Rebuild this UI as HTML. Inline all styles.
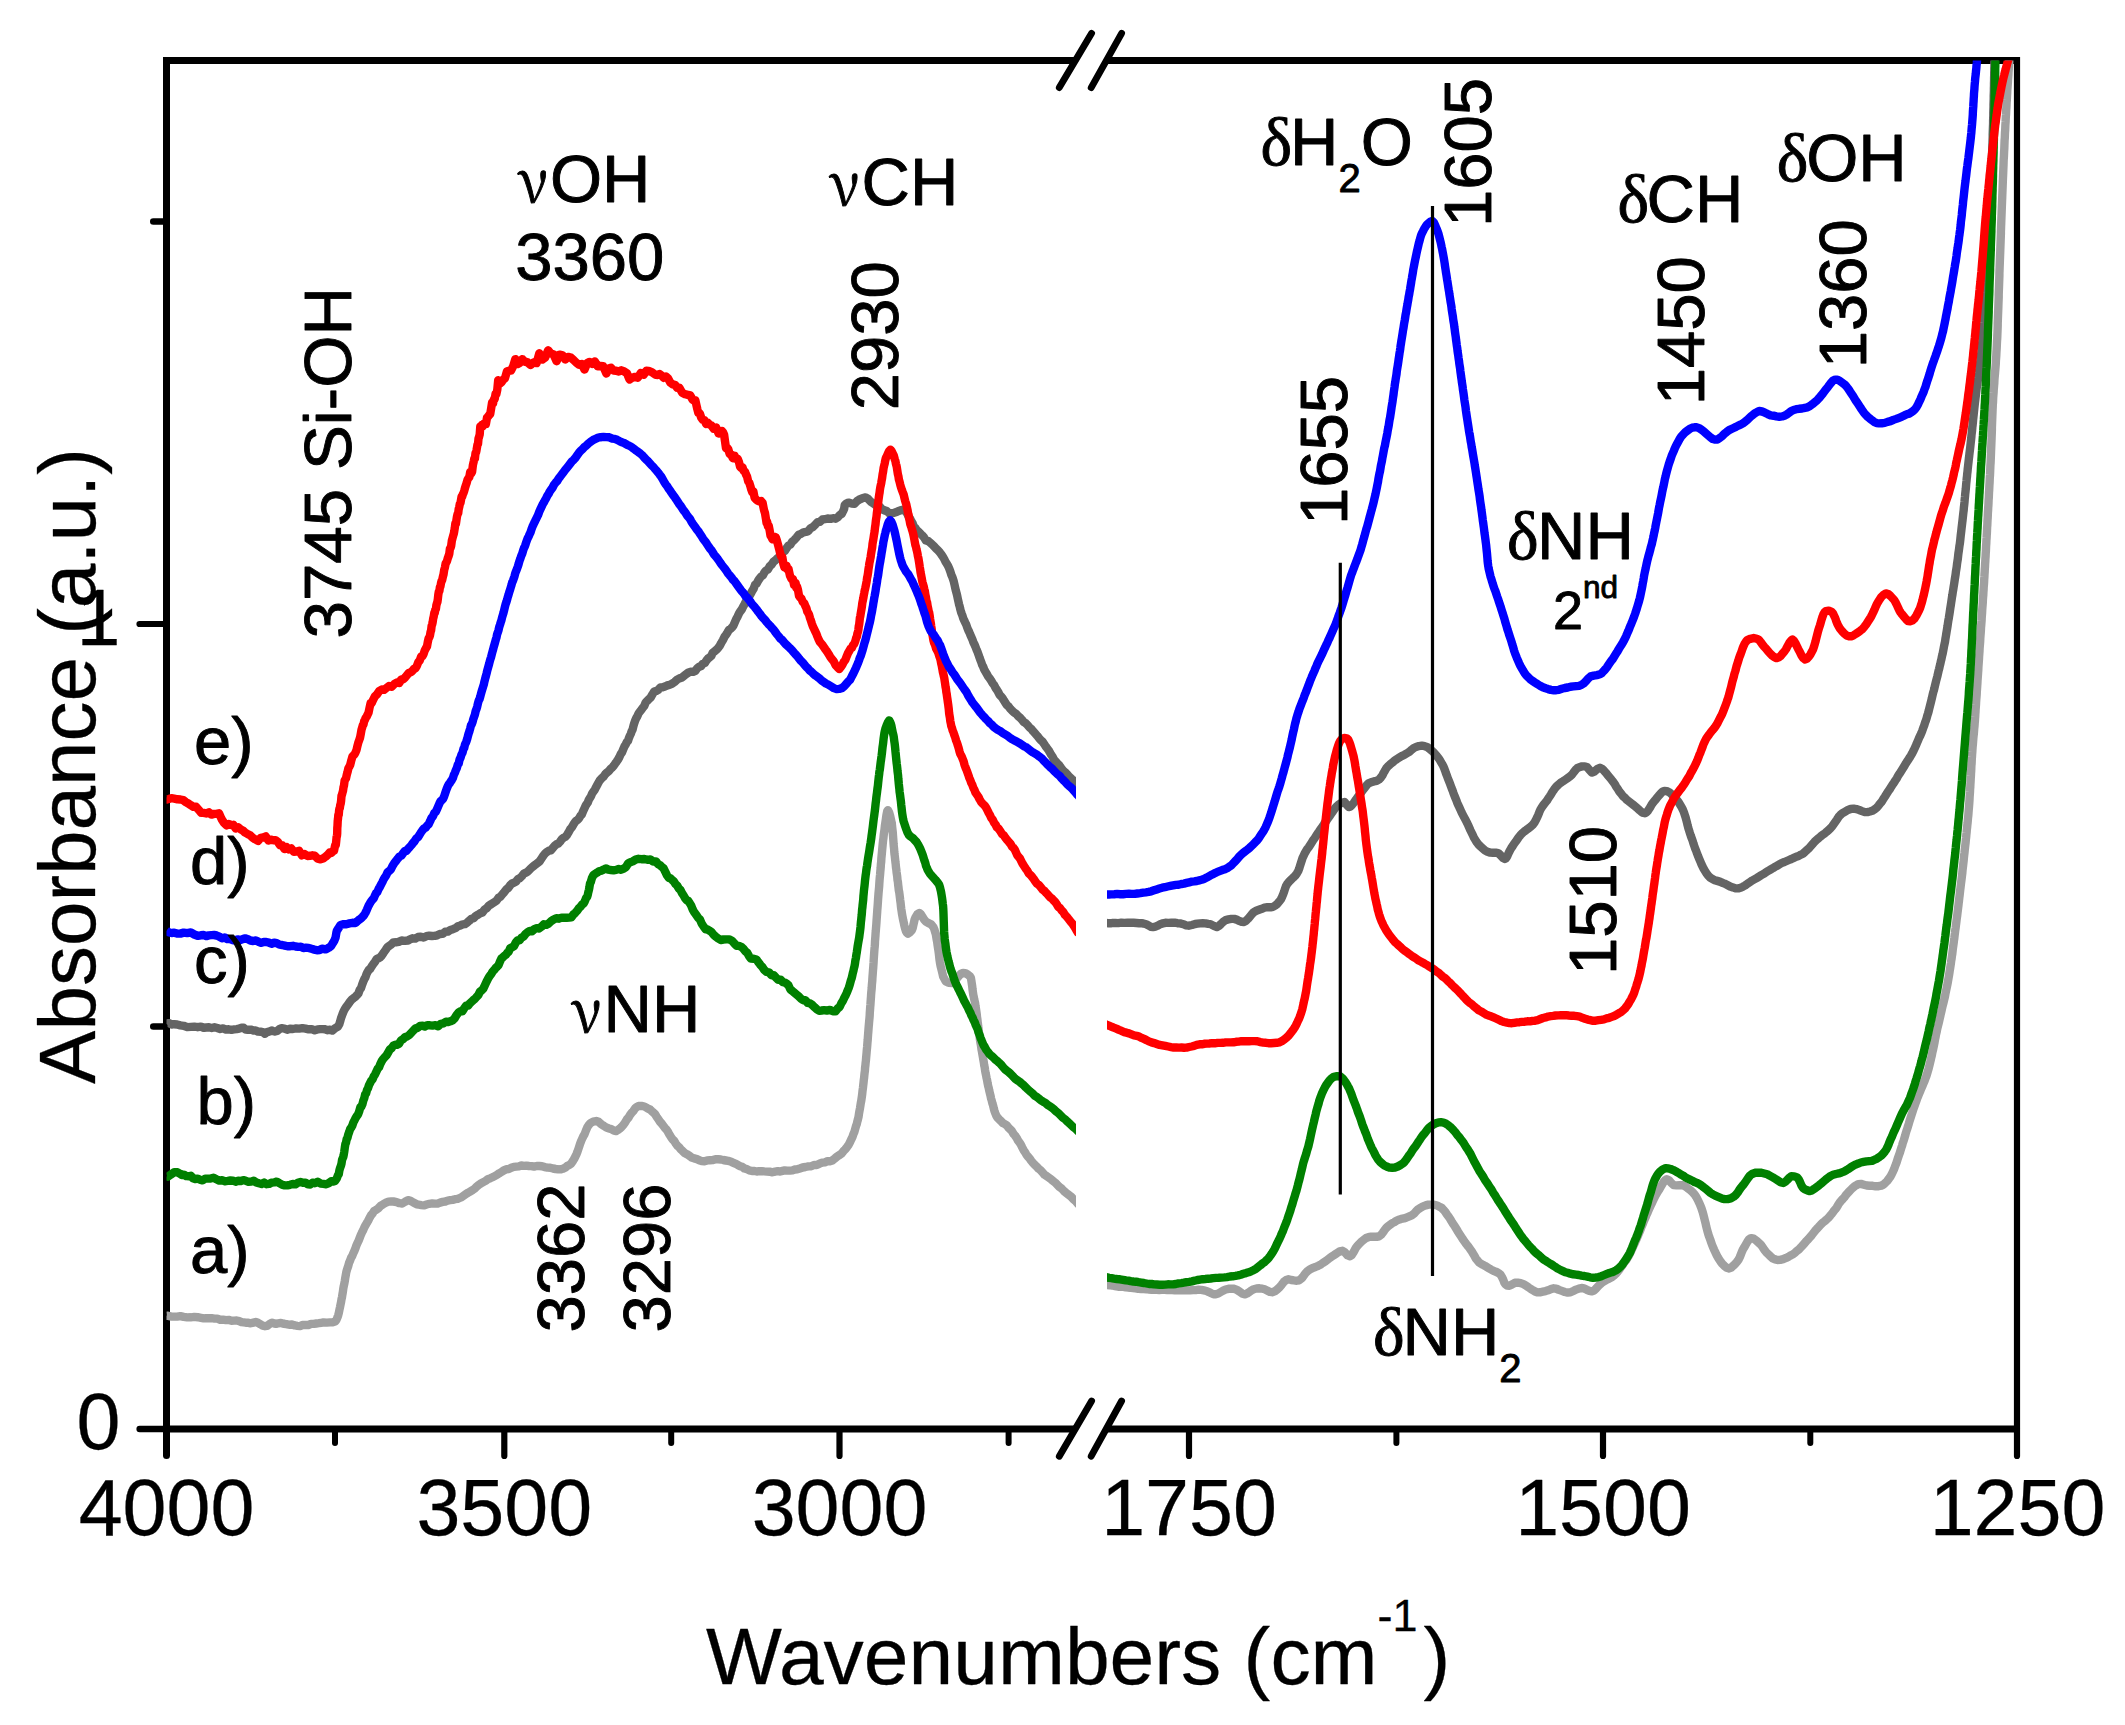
<!DOCTYPE html>
<html lang="en"><head><meta charset="utf-8"><title>FTIR spectra</title><style>html,body{margin:0;padding:0;background:#fff}svg{display:block}</style></head><body>
<svg width="2125" height="1725" viewBox="0 0 2125 1725" role="img" aria-label="FTIR absorbance spectra">
<rect width="2125" height="1725" fill="#fff"/>
<defs><clipPath id="cl"><rect x="166.5" y="60.5" width="909.5" height="1368.5"/></clipPath><clipPath id="cr"><rect x="1107.0" y="60.5" width="910.0" height="1368.5"/></clipPath></defs>
<g stroke="#000" stroke-width="7.0" fill="none" stroke-linecap="butt">
<line x1="163.0" y1="60.5" x2="1075.4" y2="60.5"/>
<line x1="1106.8" y1="60.5" x2="2020.0" y2="60.5"/>
<line x1="166.5" y1="1429.0" x2="1075.4" y2="1429.0"/>
<line x1="139.7" y1="1429.0" x2="166.5" y2="1429.0" stroke-linecap="round" stroke-width="6.6"/>
<line x1="1106.8" y1="1429.0" x2="2017.0" y2="1429.0"/>
<line x1="166.5" y1="60.5" x2="166.5" y2="1429.0"/>
<line x1="166.5" y1="1429.0" x2="166.5" y2="1455.5" stroke-linecap="round"/>
</g>
<line x1="2017.0" y1="57.0" x2="2017.0" y2="1429.0" stroke="#000" stroke-width="6.2"/>
<line x1="2017.0" y1="1429.0" x2="2017.0" y2="1456.0" stroke="#000" stroke-width="6.2" stroke-linecap="round"/>
<g stroke="#000" stroke-linecap="round">
<line x1="139.5" y1="624" x2="166.5" y2="624" stroke-width="6.2"/>
<line x1="153.3" y1="221.5" x2="166.5" y2="221.5" stroke-width="6.6"/>
<line x1="153.3" y1="1026.5" x2="166.5" y2="1026.5" stroke-width="6.6"/>
<line x1="504.3" y1="1429.0" x2="504.3" y2="1456" stroke-width="6.2"/>
<line x1="839.5" y1="1429.0" x2="839.5" y2="1456" stroke-width="6.2"/>
<line x1="1189.0" y1="1429.0" x2="1189.0" y2="1456" stroke-width="6.2"/>
<line x1="1603.0" y1="1429.0" x2="1603.0" y2="1456" stroke-width="6.2"/>
<line x1="335.0" y1="1429.0" x2="335.0" y2="1443" stroke-width="6"/>
<line x1="671.2" y1="1429.0" x2="671.2" y2="1443" stroke-width="6"/>
<line x1="1008.6" y1="1429.0" x2="1008.6" y2="1443" stroke-width="6"/>
<line x1="1396.4" y1="1429.0" x2="1396.4" y2="1443" stroke-width="6"/>
<line x1="1810.3" y1="1429.0" x2="1810.3" y2="1443" stroke-width="6"/>
</g>
<g stroke="#000" stroke-width="6.8" stroke-linecap="round">
<line x1="1059.3" y1="87.6" x2="1091.6" y2="33.3"/>
<line x1="1091.2" y1="87.6" x2="1121.6" y2="33.3"/>
<line x1="1059.3" y1="1456.2" x2="1091.6" y2="1401.0"/>
<line x1="1091.2" y1="1456.2" x2="1121.6" y2="1401.0"/>
</g>
<g fill="none" stroke-width="8.4" stroke-linejoin="round" stroke-linecap="butt" clip-path="url(#cl)">
<path d="M166.5 1315.3L166.9 1315.9L167.9 1315.7L169.5 1316.2L171.6 1316.6L174.2 1316.6L177.1 1316.6L180.3 1316.1L183.7 1316.9L187.2 1317.4L190.8 1317.3L194.3 1316.9L197.7 1317.2L200.9 1317.8L203.8 1318.4L206.3 1318.1L209.0 1318.2L211.7 1318.2L214.5 1318.6L217.3 1318.6L220.2 1319.7L223.0 1319.6L225.9 1320.1L228.7 1319.9L231.5 1320.7L234.1 1320.6L236.7 1320.5L239.2 1321.1L241.5 1322.1L243.7 1322.4L245.7 1322.7L247.5 1322.6L250.7 1323.3L253.4 1322.6L255.7 1322.0L258.0 1322.8L260.5 1324.3L262.7 1325.7L265.0 1326.2L267.1 1325.9L269.3 1324.2L272.0 1322.7L273.8 1323.4L276.0 1323.9L278.3 1323.3L280.9 1322.9L283.6 1323.8L286.4 1324.1L289.2 1324.8L292.0 1324.5L294.8 1325.4L297.5 1325.8L300.0 1326.1L302.7 1325.0L305.5 1324.9L308.3 1325.0L311.0 1323.9L313.7 1323.9L316.3 1323.5L318.8 1323.2L321.2 1322.8L323.4 1322.4L326.8 1322.6L330.0 1322.4L332.8 1322.2L335.1 1321.5L336.5 1319.8L337.5 1317.3L338.2 1315.3L338.8 1313.0L339.5 1309.5L340.1 1306.8L340.6 1304.2L341.1 1301.8L341.5 1299.3L342.0 1297.2L342.4 1294.5L342.9 1291.7L343.3 1288.5L343.8 1285.9L344.3 1283.8L344.8 1281.0L345.3 1277.7L345.8 1275.0L346.3 1272.1L346.9 1270.0L347.5 1268.2L348.2 1266.1L349.1 1262.7L350.0 1260.7L351.1 1257.8L352.2 1256.0L353.3 1253.2L354.4 1250.9L355.5 1248.2L356.5 1245.2L357.6 1242.8L358.6 1240.7L359.7 1237.9L360.7 1235.3L361.9 1232.6L363.0 1230.6L364.3 1227.5L365.6 1225.1L366.8 1223.0L368.1 1220.9L369.5 1218.0L370.9 1215.4L372.4 1213.7L374.1 1211.1L375.9 1209.9L378.1 1208.5L380.6 1205.9L383.3 1204.2L386.0 1202.7L388.6 1201.6L391.1 1201.4L393.4 1201.5L396.6 1202.1L399.5 1203.2L402.2 1203.5L405.1 1201.7L408.0 1200.1L410.6 1200.8L413.4 1202.5L416.8 1204.3L418.9 1204.7L421.3 1205.1L423.8 1205.4L426.6 1204.5L429.3 1203.8L432.2 1203.4L434.9 1203.6L437.6 1203.6L440.1 1202.6L442.7 1201.9L445.3 1201.5L447.7 1200.6L450.2 1200.2L452.6 1199.9L455.1 1199.2L457.6 1198.9L459.7 1198.0L461.8 1197.1L463.9 1195.4L466.0 1194.0L468.2 1192.6L470.3 1191.5L472.5 1190.1L474.7 1188.6L476.8 1186.4L478.9 1184.7L481.0 1183.4L483.3 1182.1L485.6 1180.9L487.9 1179.2L490.2 1178.3L492.4 1177.3L494.7 1176.1L496.9 1174.9L499.2 1173.3L501.4 1172.0L503.9 1170.4L506.4 1169.2L508.8 1169.0L511.3 1167.8L513.8 1166.9L516.3 1166.6L518.9 1166.4L521.3 1165.5L523.8 1165.9L526.3 1165.6L528.9 1166.0L531.5 1166.1L534.1 1166.6L536.7 1166.0L539.3 1166.0L541.9 1166.2L544.6 1167.1L547.4 1167.6L550.2 1167.7L553.0 1168.5L555.7 1169.0L558.2 1169.3L560.6 1169.4L562.7 1168.8L565.2 1167.7L567.3 1165.9L569.3 1165.0L571.1 1163.6L572.9 1161.0L574.1 1159.1L575.3 1156.6L576.4 1154.4L577.4 1151.9L578.4 1149.0L579.3 1146.2L580.3 1143.2L581.2 1140.9L582.1 1138.9L583.1 1136.7L584.6 1134.1L585.9 1130.6L587.3 1127.3L588.8 1125.0L590.4 1123.1L593.2 1121.6L596.2 1121.0L598.6 1121.8L601.2 1124.2L603.9 1125.9L606.4 1127.6L609.1 1128.5L611.7 1129.3L614.0 1130.6L616.1 1131.0L618.1 1129.9L619.7 1128.7L621.4 1127.1L623.2 1125.2L625.0 1122.6L626.9 1119.4L628.5 1117.6L630.0 1115.0L631.7 1112.7L633.3 1111.1L635.0 1108.5L636.8 1106.9L638.6 1106.0L641.4 1105.9L644.4 1106.5L647.3 1108.2L650.2 1109.6L651.9 1111.3L653.6 1112.7L655.2 1114.3L656.7 1116.9L658.3 1119.2L659.9 1121.6L661.5 1123.4L663.1 1125.5L664.8 1127.8L666.3 1129.4L667.9 1131.7L669.4 1134.6L671.0 1137.1L672.6 1139.4L674.2 1140.9L675.8 1143.6L677.4 1145.8L679.0 1147.0L680.7 1149.3L682.3 1150.7L684.6 1153.0L686.9 1154.2L689.2 1155.6L691.6 1157.5L694.1 1158.4L696.9 1159.1L699.2 1160.2L701.7 1161.1L704.4 1161.3L707.2 1160.4L710.0 1160.2L712.9 1160.1L715.6 1159.2L718.3 1159.3L720.9 1159.5L723.2 1160.0L725.9 1160.5L728.3 1160.9L730.6 1161.5L732.9 1162.6L735.2 1163.6L737.6 1164.8L739.9 1166.2L742.2 1166.8L744.5 1168.5L746.9 1169.1L749.3 1170.4L751.9 1171.0L754.6 1171.0L756.8 1171.5L759.2 1171.2L761.7 1171.1L764.3 1171.4L767.0 1171.6L769.7 1171.7L772.4 1172.3L775.1 1171.6L777.7 1171.2L780.2 1171.5L782.5 1170.9L784.7 1170.4L787.5 1170.6L790.1 1170.6L792.5 1170.4L794.9 1169.5L797.3 1169.3L799.8 1168.5L802.6 1167.5L805.4 1167.0L808.3 1166.4L811.2 1166.3L814.0 1165.0L816.7 1165.1L819.5 1163.7L822.2 1162.6L824.9 1162.3L827.5 1161.2L829.9 1161.2L832.4 1160.4L834.8 1158.5L837.1 1156.5L839.3 1155.1L841.3 1153.8L843.3 1151.3L845.2 1149.4L847.0 1147.1L848.7 1144.8L850.0 1142.1L851.2 1139.5L852.4 1137.1L853.4 1134.2L854.4 1131.8L855.3 1128.7L856.0 1126.1L856.7 1124.3L857.3 1121.6L857.9 1119.5L858.5 1117.1L859.0 1113.7L859.5 1110.7L860.0 1108.2L860.4 1105.7L860.8 1103.0L861.2 1101.2L861.5 1099.2L861.9 1096.4L862.2 1094.1L862.5 1091.1L862.9 1088.2L863.2 1085.6L863.5 1083.0L863.8 1080.0L864.1 1077.9L864.3 1075.7L864.6 1072.8L864.9 1070.9L865.1 1067.6L865.4 1065.3L865.6 1063.0L865.9 1060.7L866.1 1058.1L866.4 1054.8L866.6 1052.7L866.8 1050.1L867.1 1047.2L867.3 1044.7L867.5 1042.0L867.7 1040.0L867.9 1036.9L868.1 1034.2L868.3 1031.8L868.5 1029.1L868.7 1026.7L868.9 1024.5L869.1 1022.0L869.3 1019.9L869.5 1017.8L869.7 1015.4L869.8 1012.7L870.0 1010.1L870.2 1007.1L870.4 1005.1L870.6 1001.9L870.8 999.1L871.0 996.6L871.1 994.6L871.3 992.1L871.5 990.2L871.7 988.0L871.9 984.7L872.1 982.6L872.3 980.5L872.4 978.3L872.6 975.6L872.8 973.0L873.0 970.2L873.2 968.0L873.4 965.0L873.6 962.3L873.7 960.1L873.9 957.0L874.1 954.1L874.3 951.2L874.5 948.5L874.7 946.7L874.9 944.3L875.0 941.2L875.2 938.9L875.4 936.3L875.6 933.0L875.8 931.0L876.0 928.3L876.2 925.9L876.4 923.2L876.6 919.9L876.8 917.2L877.0 914.5L877.2 911.8L877.3 909.9L877.5 907.6L877.7 905.0L877.9 901.9L878.1 898.9L878.3 896.4L878.5 893.6L878.7 891.4L878.9 889.3L879.1 887.2L879.3 883.9L879.5 881.0L879.7 878.5L879.9 876.4L880.1 874.4L880.3 871.8L880.5 869.7L880.7 867.4L880.9 864.3L881.2 861.7L881.4 858.1L881.7 855.0L881.9 852.8L882.1 850.7L882.4 847.4L882.6 845.1L882.9 842.1L883.1 840.2L883.4 838.3L883.7 835.2L883.9 833.6L884.2 831.6L884.5 829.6L884.9 825.7L885.4 822.4L885.9 819.0L886.3 816.1L886.8 813.3L887.3 810.9L887.9 810.3L889.0 812.1L890.1 815.7L891.1 820.1L891.4 821.8L891.8 823.1L892.0 825.8L892.3 828.3L892.5 829.9L892.8 832.8L893.0 835.6L893.2 838.2L893.4 840.9L893.6 844.2L893.8 846.3L894.1 848.9L894.3 852.0L894.5 854.1L894.8 856.3L895.1 859.0L895.4 861.9L895.7 864.2L896.0 867.5L896.3 869.4L896.6 872.3L896.9 874.4L897.2 876.5L897.5 880.0L897.9 881.9L898.2 885.2L898.5 887.3L898.8 890.3L899.2 892.0L899.5 894.3L899.9 897.6L900.2 900.1L900.6 902.9L900.9 906.1L901.3 909.1L901.7 911.6L902.0 913.9L902.4 916.0L902.8 918.1L903.3 920.7L903.7 922.3L904.2 924.9L905.1 928.5L905.9 931.1L906.9 932.8L908.0 933.7L909.9 932.3L911.8 930.4L912.7 928.0L913.4 924.8L914.0 922.2L914.6 919.5L915.5 917.3L917.3 914.3L919.3 913.0L920.8 914.1L922.4 916.7L924.1 919.5L925.9 921.7L928.5 923.2L931.2 924.4L933.4 927.1L934.4 929.5L935.2 932.3L935.8 934.0L936.2 936.5L936.7 939.7L937.2 942.1L937.6 945.2L938.0 948.0L938.4 950.1L938.8 953.2L939.1 955.9L939.5 959.6L939.9 962.2L940.4 965.0L940.9 967.3L941.6 970.0L942.4 973.3L943.2 976.7L944.3 978.6L945.6 981.2L948.7 982.9L952.2 983.1L954.0 982.4L955.7 979.6L957.4 977.7L959.1 975.8L960.7 974.0L963.1 973.0L965.4 973.1L967.9 974.6L970.1 976.5L970.9 977.9L971.4 980.9L971.8 983.6L972.2 986.2L972.5 989.1L972.9 992.1L973.3 994.8L973.7 996.7L974.2 999.2L974.6 1000.9L975.1 1003.0L975.5 1006.0L975.9 1008.5L976.3 1011.1L976.7 1013.8L977.0 1017.0L977.4 1019.5L977.7 1022.5L978.0 1024.3L978.2 1026.5L978.5 1028.4L978.8 1031.4L979.2 1034.2L979.5 1036.2L979.9 1039.3L980.3 1041.9L980.7 1044.0L981.1 1046.3L981.5 1049.5L982.0 1051.9L982.4 1054.2L982.9 1057.1L983.3 1059.5L983.8 1062.3L984.2 1065.2L984.7 1067.4L985.1 1070.4L985.6 1073.2L986.1 1075.5L986.6 1078.1L987.1 1080.3L987.6 1083.2L988.2 1086.1L988.7 1087.9L989.3 1090.8L989.9 1093.4L990.5 1095.6L991.1 1098.6L991.8 1100.9L992.5 1103.7L993.1 1105.5L993.8 1108.5L994.5 1111.0L995.3 1113.2L996.2 1115.5L997.4 1117.5L999.0 1119.2L1000.8 1120.9L1002.8 1123.0L1004.9 1124.1L1006.9 1125.5L1008.7 1127.9L1010.4 1129.5L1012.0 1131.2L1013.5 1133.9L1015.0 1135.5L1016.6 1137.8L1018.1 1140.7L1019.5 1142.5L1020.8 1144.5L1022.2 1147.4L1023.5 1149.9L1024.9 1152.1L1026.3 1154.4L1027.8 1156.4L1029.4 1158.2L1031.1 1160.7L1032.9 1162.9L1034.8 1164.9L1036.7 1166.6L1038.7 1168.8L1040.6 1170.3L1042.6 1172.6L1044.6 1174.8L1046.7 1176.1L1048.8 1177.6L1050.9 1179.1L1053.1 1181.0L1055.3 1182.7L1057.6 1185.1L1059.5 1187.1L1061.6 1188.5L1063.9 1191.0L1066.4 1193.2L1068.9 1195.0L1071.3 1196.9L1073.6 1199.5L1075.7 1201.1L1077.4 1203.3L1078.8 1204.5L1079.7 1205.9L1080.0 1205.8" stroke="#a0a0a0"/>
<path d="M166.5 1024.1L166.9 1023.5L167.9 1023.2L169.5 1023.2L171.6 1024.5L174.2 1024.2L177.1 1024.5L180.3 1025.4L183.7 1025.8L187.2 1027.1L190.8 1026.9L194.3 1026.7L197.7 1027.2L200.9 1026.6L203.8 1027.9L206.3 1027.5L209.0 1027.3L211.7 1028.0L214.5 1027.2L217.3 1028.0L220.2 1029.0L223.0 1028.4L225.9 1029.6L228.7 1029.3L231.5 1029.8L234.1 1029.4L236.7 1029.1L239.2 1028.6L241.5 1027.8L243.7 1027.8L245.7 1029.6L247.5 1029.7L250.7 1029.6L253.4 1030.5L255.7 1030.5L258.0 1031.6L260.5 1031.7L262.7 1032.1L265.0 1033.8L267.1 1032.1L269.1 1031.6L272.0 1030.5L273.4 1031.2L275.1 1031.5L277.1 1031.0L279.3 1029.2L281.7 1028.2L284.4 1028.6L287.1 1029.7L290.0 1028.7L293.0 1029.0L296.1 1028.4L299.2 1028.6L302.4 1028.1L305.5 1028.6L308.7 1029.3L311.7 1029.1L314.7 1030.3L317.5 1029.4L320.3 1029.1L322.8 1029.1L325.2 1029.3L327.3 1030.2L329.2 1029.7L330.9 1030.1L332.2 1030.6L335.7 1027.8L338.0 1026.5L339.3 1024.2L340.1 1021.6L341.0 1018.2L342.4 1014.4L343.6 1011.4L344.9 1008.8L346.5 1006.5L348.2 1004.2L349.9 1001.8L351.8 999.6L353.5 998.2L355.3 996.9L356.9 995.2L358.4 993.5L359.7 989.8L361.0 988.2L362.1 984.8L363.3 981.5L364.4 979.0L365.4 977.3L366.5 974.1L367.7 971.7L368.9 969.8L370.1 969.0L371.7 966.4L373.3 964.0L375.0 961.7L376.7 958.9L378.4 958.3L380.1 957.3L381.8 955.5L383.7 952.6L385.5 950.1L387.3 947.4L389.2 945.9L391.2 944.5L393.4 942.4L396.0 942.3L398.7 941.9L401.6 940.5L404.7 940.9L408.0 940.5L410.3 939.2L412.8 938.3L415.3 938.6L418.0 937.0L420.8 936.7L423.6 937.6L426.4 936.2L429.2 935.7L432.0 936.0L434.7 935.9L437.2 935.3L439.9 934.0L442.6 933.8L445.2 931.8L447.8 931.6L450.3 930.0L452.9 929.2L455.4 928.2L457.9 926.2L460.5 925.4L462.7 924.4L464.9 924.1L467.1 922.7L469.3 920.7L471.5 918.8L473.7 918.2L475.8 915.9L478.0 914.7L480.2 913.3L482.4 912.5L484.6 909.5L486.8 908.1L488.8 905.6L490.7 904.5L492.6 903.2L494.6 901.9L496.5 900.7L498.5 897.8L500.4 896.8L502.4 894.2L504.3 892.1L506.3 889.4L508.2 888.0L510.2 885.2L512.1 883.5L514.1 882.7L516.0 881.6L518.0 879.0L519.9 878.1L521.9 876.1L523.9 873.6L525.9 872.7L527.9 871.4L529.9 869.3L531.8 867.5L533.8 865.9L535.8 864.3L537.7 862.9L539.6 861.4L541.5 858.5L543.4 855.6L545.2 853.4L547.1 851.8L549.0 850.7L550.9 850.3L552.8 848.0L554.7 845.8L556.6 844.2L558.4 843.5L560.2 841.5L562.0 838.9L563.7 837.7L565.3 836.8L566.9 835.1L568.5 832.4L570.2 829.3L571.8 827.4L573.4 824.6L574.9 822.2L576.3 820.6L577.7 819.8L579.1 818.2L580.5 815.7L581.8 814.6L583.1 811.2L584.4 808.4L585.6 805.8L586.7 804.0L587.7 802.7L588.8 799.7L589.9 798.0L591.0 796.3L592.2 793.3L593.4 791.6L594.8 789.7L596.3 786.7L598.0 783.5L599.7 780.5L601.5 778.4L603.4 776.8L605.3 774.1L607.1 772.4L608.9 770.9L610.7 768.8L612.3 767.5L613.8 765.6L615.2 763.6L616.6 761.7L618.0 759.6L619.4 757.1L620.7 754.1L622.0 752.4L623.3 749.2L624.5 746.3L625.7 744.4L626.9 742.0L628.0 740.9L629.0 737.8L629.9 735.6L630.8 733.9L631.7 731.2L632.6 729.5L633.5 725.8L634.4 722.8L635.3 720.2L636.3 718.0L637.4 716.2L638.6 713.4L639.9 711.6L641.3 709.9L642.7 707.9L644.2 706.1L645.7 702.4L647.3 700.8L648.9 699.1L650.6 697.6L652.4 694.4L654.2 691.6L656.1 691.0L658.2 689.8L660.3 687.5L662.6 687.3L665.0 686.5L667.4 685.4L669.8 684.7L672.2 683.6L674.7 681.8L677.1 679.6L679.4 678.4L681.6 677.8L683.9 675.9L686.2 674.2L688.5 672.5L690.8 671.8L693.1 671.9L695.3 670.9L697.4 668.1L699.3 666.7L701.2 666.0L702.8 663.8L704.9 662.9L706.6 660.3L708.1 658.5L709.6 657.4L711.3 655.9L712.8 652.6L714.4 651.5L716.1 650.1L717.8 648.3L719.5 646.2L721.2 643.0L722.9 640.1L724.5 636.8L726.0 634.8L727.5 632.4L729.0 629.7L730.5 629.0L732.0 627.4L733.5 625.4L734.9 622.1L736.3 618.8L737.6 616.6L739.1 613.3L740.5 611.1L741.8 609.4L743.1 606.7L744.5 604.2L745.8 601.7L747.1 600.4L748.4 596.8L749.7 595.5L751.0 593.3L752.3 590.8L753.6 588.7L755.0 584.9L756.5 583.7L758.0 580.9L759.5 578.6L761.1 576.6L762.8 575.4L764.5 572.3L766.2 570.4L767.9 569.5L769.6 566.4L771.5 564.7L773.3 561.9L775.3 560.4L777.2 558.5L779.1 556.9L781.0 554.0L782.8 551.8L784.8 551.1L786.7 548.0L788.5 545.5L790.4 544.7L792.2 541.7L794.1 540.1L796.4 537.7L798.8 534.7L801.1 533.8L803.5 532.3L805.8 531.9L808.2 531.2L810.6 528.2L812.9 527.0L815.2 524.8L817.5 522.2L819.8 521.9L822.4 519.5L824.9 519.2L827.6 518.5L830.5 518.9L833.1 518.2L835.5 518.7L837.8 517.2L839.8 514.9L841.6 514.0L843.1 511.1L844.1 509.0L844.7 505.1L845.9 503.8L848.4 502.6L851.6 503.6L854.4 503.8L856.8 501.3L859.1 499.7L862.2 498.3L865.6 497.4L868.1 498.9L870.5 501.5L873.2 503.4L875.3 504.9L877.6 505.5L879.9 506.9L882.2 509.4L884.5 510.4L886.9 511.1L889.2 513.4L891.5 513.1L893.9 512.9L897.1 511.7L900.4 510.3L903.3 509.6L905.4 511.2L907.1 513.4L908.9 517.4L910.1 518.7L911.4 521.3L912.6 523.2L913.8 526.4L915.1 527.7L916.5 529.8L918.2 531.3L920.1 533.4L922.0 535.2L924.0 537.4L925.9 540.5L928.3 541.1L930.7 543.2L933.1 545.3L935.3 547.7L937.3 549.7L939.2 551.7L941.0 554.0L942.8 556.6L944.2 559.0L945.5 561.7L946.8 563.7L948.1 566.1L949.3 568.7L950.4 571.7L951.3 574.7L952.2 576.7L953.0 579.0L953.8 581.6L954.5 584.6L955.2 587.8L956.0 591.2L956.6 593.3L957.2 595.7L957.8 598.7L958.4 601.4L959.0 604.2L959.6 606.2L960.2 608.9L960.9 611.5L961.6 613.5L962.4 615.6L963.3 618.5L964.2 620.4L965.2 622.6L966.2 624.5L967.2 627.5L968.2 630.0L969.2 632.0L970.2 634.5L971.3 637.0L972.3 639.2L973.4 642.3L974.5 644.5L975.6 647.1L976.7 650.1L977.7 652.3L978.6 654.9L979.6 657.8L980.5 660.2L981.3 662.2L982.1 664.8L983.1 666.6L984.2 669.4L985.4 671.6L986.7 673.7L988.1 676.4L989.5 678.1L991.0 680.3L992.5 683.1L994.0 684.9L995.5 687.8L996.9 689.9L998.2 692.0L999.6 694.8L1001.0 696.3L1002.4 697.9L1003.8 700.3L1005.3 702.6L1006.8 705.0L1008.6 706.5L1010.4 708.9L1012.3 710.9L1014.2 712.6L1016.2 713.8L1018.1 716.1L1020.0 717.6L1021.9 719.7L1023.8 722.1L1025.7 723.2L1027.6 725.1L1029.5 727.5L1031.4 729.0L1033.2 731.3L1035.2 733.6L1037.1 735.7L1039.1 738.2L1040.9 740.3L1042.7 741.8L1044.5 744.5L1045.9 746.7L1047.3 748.5L1048.6 750.2L1049.8 752.3L1051.1 754.7L1052.5 756.7L1053.9 759.5L1055.6 761.3L1057.4 763.4L1059.3 765.3L1061.2 768.0L1063.2 770.5L1065.2 772.3L1067.1 774.2L1069.4 776.9L1071.9 779.2L1074.3 781.1L1076.5 783.7L1078.3 785.5L1079.5 786.2L1080.0 786.5" stroke="#646464"/>
<path d="M166.5 1176.2L167.7 1176.7L170.6 1174.8L174.2 1172.3L177.5 1172.3L179.7 1173.6L181.8 1175.0L183.9 1174.6L186.3 1176.1L189.2 1176.3L191.0 1175.8L193.0 1178.3L195.2 1179.1L197.5 1178.7L200.0 1179.7L202.6 1180.4L205.2 1178.6L207.9 1178.6L210.7 1178.5L213.5 1177.7L216.4 1179.2L219.3 1180.6L222.1 1180.3L224.9 1181.2L227.7 1180.9L230.4 1180.5L233.0 1180.7L235.6 1181.7L238.2 1180.8L240.8 1181.0L243.3 1180.1L245.9 1180.8L248.5 1181.8L251.1 1181.6L253.7 1180.7L256.3 1182.5L258.9 1183.3L261.5 1184.0L264.1 1182.6L266.6 1184.2L269.2 1183.8L271.7 1182.7L274.2 1182.4L276.7 1181.6L279.3 1183.2L282.0 1184.7L284.7 1185.4L287.3 1185.4L290.0 1184.8L292.7 1184.0L295.3 1184.4L297.9 1182.7L300.5 1181.9L303.0 1182.7L305.5 1182.6L307.9 1184.4L310.2 1184.5L312.5 1182.7L314.7 1183.2L317.7 1181.7L320.6 1183.6L323.5 1183.9L326.2 1184.3L328.8 1183.1L331.2 1181.2L333.3 1181.5L335.1 1180.9L336.8 1178.4L337.9 1175.3L338.8 1174.0L339.4 1170.4L340.1 1167.9L340.9 1165.8L341.5 1163.6L342.1 1159.7L342.6 1158.6L343.2 1157.2L343.7 1155.0L344.2 1152.1L344.8 1147.7L345.4 1144.0L346.0 1142.7L346.7 1139.0L347.4 1138.1L348.2 1134.7L349.1 1132.3L350.1 1129.2L351.2 1127.6L352.3 1125.7L353.4 1122.4L354.6 1120.1L355.8 1117.7L357.0 1115.8L358.1 1114.4L359.2 1111.3L360.3 1107.3L361.3 1106.6L362.4 1104.3L363.4 1100.3L364.3 1098.2L365.2 1094.2L366.1 1093.5L367.0 1090.0L368.0 1088.2L369.0 1085.1L370.1 1083.0L371.3 1080.6L372.5 1079.5L373.7 1076.4L375.0 1074.6L376.3 1071.8L377.7 1068.7L379.0 1067.4L380.4 1063.8L381.8 1061.0L383.4 1058.7L384.9 1057.0L386.5 1055.4L388.1 1052.6L389.8 1049.5L391.5 1048.3L393.4 1045.6L395.2 1044.8L397.0 1044.8L399.0 1043.7L401.0 1040.4L403.1 1039.2L405.2 1037.0L407.2 1036.4L409.1 1035.1L411.0 1033.1L413.3 1030.7L415.5 1028.3L417.7 1027.8L420.0 1025.9L422.6 1025.7L424.8 1026.5L427.3 1025.1L429.9 1025.3L432.6 1025.6L435.4 1025.2L438.1 1026.2L440.9 1023.8L443.5 1023.3L446.0 1021.6L448.2 1022.0L450.4 1021.3L452.5 1020.4L454.5 1018.5L456.5 1015.1L458.5 1012.6L460.5 1011.3L462.4 1011.2L464.4 1008.0L466.4 1005.4L468.1 1005.6L469.8 1003.4L471.5 1001.9L473.2 1000.2L474.9 998.9L476.6 996.9L478.3 995.1L479.9 991.7L481.6 990.5L483.3 988.6L484.9 985.2L486.5 981.7L488.1 978.6L489.7 975.9L491.2 973.9L492.7 971.5L494.2 969.9L495.7 967.9L497.1 966.7L498.6 965.1L500.0 961.5L501.4 958.4L502.9 957.3L504.3 955.9L505.7 954.9L507.2 952.9L508.7 951.7L510.2 948.2L512.1 947.2L513.9 946.3L515.8 942.5L517.7 940.2L519.6 940.3L521.5 937.7L523.5 936.6L525.6 933.9L527.7 932.1L529.8 930.9L532.1 931.3L534.4 929.1L536.7 928.2L539.1 928.5L541.5 926.7L543.9 924.3L546.3 924.9L548.7 923.5L551.0 921.3L553.6 919.5L556.3 918.2L559.0 918.7L561.6 917.7L564.2 917.7L566.7 917.8L569.2 917.6L571.4 917.3L573.4 914.5L575.3 912.8L577.1 910.8L578.8 908.3L580.5 906.7L582.0 904.6L583.5 903.7L584.8 901.4L586.0 898.2L587.1 897.0L587.8 894.8L588.4 891.8L588.9 890.0L589.4 887.4L590.0 883.5L590.8 882.0L591.9 878.2L593.4 875.1L595.1 873.8L597.0 872.7L599.1 871.3L601.2 870.7L603.5 869.6L605.8 868.4L608.3 869.6L610.9 870.0L613.6 870.3L616.2 869.9L618.7 869.0L621.0 869.8L623.6 868.6L625.9 867.2L628.1 863.5L630.4 862.2L632.7 861.4L635.6 859.6L638.5 858.8L641.5 859.2L644.4 859.0L647.4 859.8L650.3 859.4L653.2 861.5L656.1 861.5L658.0 864.2L659.8 865.0L661.6 866.6L663.5 868.2L665.3 871.8L667.0 875.4L668.8 877.9L670.6 878.4L672.3 880.1L673.9 881.5L675.6 884.2L677.2 885.6L678.8 888.5L680.4 889.9L682.0 893.1L683.6 895.5L685.2 898.3L686.7 900.2L688.2 900.9L689.7 903.1L691.1 905.4L692.6 909.2L694.0 911.9L695.5 913.8L696.9 915.9L698.3 918.0L699.8 919.2L701.7 923.7L703.6 926.5L705.6 929.2L707.5 929.4L709.4 930.7L711.3 931.8L713.6 934.8L715.9 936.7L718.2 938.5L720.7 940.0L723.4 939.5L726.3 939.4L729.2 939.4L732.0 940.7L734.4 943.5L736.7 945.9L739.0 945.9L741.2 946.8L743.3 948.6L745.3 951.2L747.2 952.8L749.0 956.1L750.8 958.6L753.7 958.8L756.5 959.5L758.0 961.8L759.2 963.2L760.5 965.1L762.1 966.7L764.2 969.8L766.5 971.9L769.0 972.3L771.5 975.2L773.7 975.2L776.0 977.7L778.3 979.8L780.6 979.7L782.8 982.1L784.7 982.5L786.6 983.6L788.5 985.4L790.3 989.4L792.2 990.9L794.1 992.5L796.3 994.4L798.6 996.3L800.9 998.6L803.1 1000.2L805.4 1000.3L807.7 1002.9L810.0 1003.3L812.3 1005.0L814.5 1007.2L816.7 1009.2L819.2 1010.8L821.6 1010.5L824.2 1010.1L826.9 1010.6L829.9 1009.9L832.9 1011.3L835.5 1011.3L837.8 1008.4L839.7 1006.9L841.5 1002.9L843.1 1000.4L844.4 997.5L845.6 995.4L846.7 992.9L847.7 990.4L848.7 988.0L849.5 985.4L850.2 983.0L850.9 980.4L851.6 978.4L852.2 975.9L852.8 973.2L853.4 971.0L853.9 968.5L854.5 966.2L855.0 963.5L855.4 960.4L855.9 958.1L856.3 955.1L856.8 952.2L857.2 949.5L857.6 946.7L858.0 944.2L858.4 941.9L858.8 939.6L859.2 937.5L859.6 934.3L860.0 931.4L860.2 929.7L860.5 927.2L860.7 924.7L860.9 922.3L861.2 919.8L861.4 917.7L861.7 915.1L861.9 912.6L862.1 909.6L862.4 907.4L862.6 905.1L862.9 902.6L863.2 899.7L863.4 896.5L863.7 893.3L863.9 891.1L864.2 888.6L864.5 886.1L864.8 883.1L865.0 880.8L865.3 878.3L865.6 875.7L866.0 873.1L866.3 870.4L866.7 867.6L867.1 865.6L867.4 863.0L867.8 860.3L868.2 857.6L868.6 855.3L869.0 852.8L869.4 850.3L869.8 847.6L870.2 845.2L870.6 842.9L870.9 840.9L871.3 838.2L871.6 835.6L872.0 832.8L872.3 830.4L872.6 828.2L872.9 825.9L873.2 823.2L873.5 820.7L873.9 817.7L874.2 815.6L874.5 813.3L874.8 811.1L875.1 808.5L875.4 805.7L875.7 803.0L876.0 800.9L876.3 797.8L876.6 795.4L876.9 793.4L877.2 790.7L877.5 788.4L877.9 785.6L878.2 782.4L878.5 779.6L878.8 776.9L879.1 774.7L879.4 771.8L879.8 769.8L880.1 767.2L880.4 764.8L880.7 762.1L881.0 760.3L881.3 757.8L881.6 755.8L882.0 752.4L882.3 749.5L882.6 746.8L883.0 744.2L883.3 741.5L883.6 738.8L884.0 735.8L884.4 733.1L884.9 730.7L885.4 728.7L886.6 725.4L887.9 722.3L889.2 720.4L890.0 721.8L890.8 723.6L891.5 726.2L892.2 729.7L892.9 733.2L893.3 734.6L893.7 736.5L894.0 738.9L894.3 741.2L894.7 743.9L895.0 746.5L895.3 749.5L895.5 751.9L895.8 754.7L896.1 757.8L896.4 760.7L896.7 763.5L897.0 765.8L897.3 768.4L897.5 770.9L897.8 773.2L898.1 775.6L898.3 778.5L898.6 781.5L898.8 783.9L899.1 786.7L899.4 789.4L899.6 791.9L899.9 793.8L900.2 796.1L900.5 798.5L900.9 801.4L901.2 804.7L901.6 808.0L901.9 811.1L902.3 814.0L902.7 816.6L903.1 818.9L903.6 821.4L904.2 823.0L905.2 826.2L906.2 829.1L907.4 832.2L908.9 835.0L910.6 836.5L912.7 837.9L914.7 840.1L916.5 842.0L917.8 844.1L919.0 846.3L920.0 848.2L921.1 850.9L922.1 853.4L922.9 855.5L923.7 858.2L924.5 860.7L925.3 862.9L926.0 865.9L926.9 867.9L927.8 870.2L929.6 873.2L931.5 875.4L933.4 877.7L935.4 879.8L937.4 882.2L939.1 884.7L939.9 887.1L940.6 889.9L941.2 892.7L941.6 895.1L942.0 897.7L942.4 900.6L942.8 904.0L943.1 906.1L943.3 909.1L943.4 911.4L943.5 913.9L943.6 916.9L943.7 920.2L943.8 922.7L943.9 925.7L944.0 928.8L944.1 931.7L944.3 934.5L944.5 936.7L944.7 938.9L945.0 941.4L945.4 943.8L945.7 946.4L946.1 949.4L946.5 952.0L947.0 954.4L947.4 956.5L947.9 958.5L948.5 961.1L949.2 963.5L949.9 966.6L950.7 969.2L951.5 971.5L952.3 973.4L953.2 976.3L954.1 979.0L955.1 981.7L956.1 984.2L957.2 986.3L958.3 988.5L959.4 990.8L960.5 993.0L961.6 995.2L962.8 997.8L964.1 1000.7L965.4 1003.1L966.7 1005.5L968.0 1007.8L969.2 1010.7L970.3 1012.6L971.4 1015.5L972.5 1017.4L973.6 1020.1L974.7 1022.2L975.7 1025.0L976.7 1027.1L977.7 1029.3L978.6 1032.6L979.6 1035.0L980.5 1037.8L981.4 1039.9L982.4 1042.6L983.7 1045.4L985.0 1047.4L986.4 1050.0L988.0 1052.0L989.6 1054.2L991.4 1055.8L993.4 1057.5L995.4 1059.7L997.4 1061.2L999.2 1062.8L1001.0 1064.5L1002.9 1066.8L1004.8 1069.1L1006.7 1070.6L1008.7 1072.1L1010.6 1073.9L1012.8 1076.2L1014.9 1078.5L1017.1 1080.1L1019.3 1081.5L1021.6 1083.5L1023.8 1085.3L1025.9 1087.5L1028.0 1089.5L1030.2 1091.5L1032.4 1093.2L1034.5 1095.6L1036.7 1096.9L1038.8 1098.5L1041.0 1100.4L1043.2 1101.7L1045.4 1102.9L1047.6 1104.9L1049.8 1106.3L1052.0 1107.8L1054.2 1109.6L1056.4 1111.7L1058.6 1113.3L1060.8 1115.6L1063.0 1117.9L1065.2 1119.4L1067.5 1121.7L1070.2 1124.1L1073.0 1126.9L1075.7 1128.8L1077.9 1131.1L1079.4 1132.5L1080.0 1132.6" stroke="#008000"/>
<path d="M166.5 797.1L167.1 799.4L168.8 799.0L171.3 798.2L174.2 798.7L177.4 799.3L180.5 799.5L183.3 800.1L185.8 802.1L188.3 803.5L190.8 805.2L193.4 806.8L196.0 806.7L198.6 809.7L201.2 812.9L203.8 812.9L206.3 813.5L208.9 812.3L211.4 814.6L213.9 813.9L216.5 813.9L219.0 813.3L221.6 819.1L224.2 823.1L226.5 825.4L228.8 823.9L231.1 825.1L233.4 824.8L235.7 828.4L238.1 827.2L240.4 829.2L242.8 830.4L245.1 832.6L247.5 833.9L250.1 835.2L252.7 837.7L255.3 839.4L258.0 840.9L260.6 837.9L263.2 837.5L265.8 836.4L268.4 840.5L270.9 839.6L273.2 840.2L275.5 840.2L277.8 841.9L280.0 845.2L282.2 845.1L284.4 849.0L286.7 847.2L289.0 849.4L291.3 848.4L293.8 851.8L296.5 851.6L299.2 850.8L301.9 855.3L304.6 854.0L307.3 856.0L309.9 855.8L312.4 855.3L314.7 855.7L317.6 858.7L320.5 859.3L323.1 858.5L325.6 856.7L327.8 854.8L329.7 852.6L331.3 853.0L332.7 851.4L334.0 850.8L335.1 845.5L335.8 845.0L336.2 841.4L336.6 837.2L336.9 836.1L337.0 835.5L337.2 833.3L337.3 827.8L337.5 825.6L337.7 821.1L338.0 818.8L338.3 815.0L338.7 815.1L339.1 810.3L339.4 808.8L339.8 808.1L340.2 805.3L340.7 803.6L341.1 800.9L341.5 795.9L341.9 794.9L342.4 793.0L343.0 790.9L343.5 787.3L344.0 785.6L344.6 780.7L345.2 779.7L346.0 778.4L346.8 774.7L347.5 772.2L348.4 768.3L349.3 766.7L350.3 764.6L351.4 760.1L352.4 756.6L353.5 755.4L354.6 754.3L355.6 752.2L356.6 749.7L357.5 745.7L358.4 742.3L359.3 739.8L360.1 737.5L360.8 733.8L361.5 729.8L362.2 727.6L362.8 725.2L363.5 724.4L364.2 721.0L364.9 719.9L365.7 717.9L366.7 716.5L367.6 714.7L368.5 712.8L369.5 708.0L370.6 703.1L371.7 703.1L373.0 700.1L374.9 696.3L377.0 694.4L379.2 691.1L381.8 689.5L384.0 689.8L386.4 688.0L389.0 686.0L391.6 686.8L394.3 684.1L396.9 682.4L399.3 683.0L401.3 679.4L403.3 679.2L405.2 677.4L407.0 675.2L408.8 673.0L410.5 672.4L412.2 671.1L413.9 669.0L415.4 668.4L416.9 665.9L418.3 662.1L419.7 660.6L421.1 656.6L422.4 656.2L423.6 654.0L424.8 650.3L426.0 648.2L427.0 646.4L427.8 642.0L428.6 638.4L429.3 637.4L430.0 635.4L430.6 631.8L431.1 630.4L431.6 626.1L432.2 624.2L432.7 622.0L433.2 618.5L433.7 616.6L434.3 612.8L434.8 612.8L435.4 609.1L435.9 609.0L436.4 605.1L436.9 603.3L437.4 602.0L437.8 599.4L438.3 594.8L438.8 591.8L439.4 591.0L439.9 587.1L440.4 586.6L441.0 583.1L441.6 581.0L442.2 580.0L442.9 576.6L443.5 574.5L444.2 569.9L444.9 567.6L445.7 563.2L446.4 562.4L447.1 560.8L447.8 558.1L448.6 556.1L449.3 553.7L449.9 548.8L450.6 547.7L451.2 545.7L451.8 540.9L452.5 538.2L453.1 536.0L453.7 534.1L454.2 531.6L454.8 527.9L455.3 523.8L455.9 523.8L456.4 520.4L457.0 516.4L457.6 514.0L458.2 513.2L458.7 509.1L459.3 506.8L459.9 503.4L460.4 503.3L461.0 499.9L461.6 496.6L462.2 496.6L462.9 494.1L463.5 493.1L464.2 490.9L464.9 488.3L465.7 485.7L466.6 483.2L467.5 479.8L468.4 478.2L469.3 477.2L470.2 472.0L471.2 473.5L472.1 471.8L472.9 465.1L473.7 461.6L474.3 458.5L474.9 458.7L475.5 453.1L476.0 452.7L476.5 450.3L477.0 447.4L477.5 444.5L478.0 444.1L478.5 438.6L479.1 436.8L479.7 434.5L480.3 426.4L481.0 427.3L481.9 424.9L482.8 426.2L483.8 423.7L484.9 424.0L485.9 424.1L487.0 417.7L488.1 416.5L489.1 415.1L490.2 414.1L491.2 408.1L492.1 402.4L493.0 403.5L493.9 399.4L494.7 399.2L495.6 393.6L496.4 394.0L497.3 389.7L498.2 380.2L499.2 383.6L500.3 383.2L501.4 382.3L503.1 379.8L505.0 378.2L507.0 371.2L509.0 370.7L511.0 370.6L513.1 366.4L515.3 359.1L517.6 364.1L519.9 362.8L522.3 359.1L524.8 361.6L527.6 362.4L530.6 364.9L533.6 362.5L536.6 363.1L539.3 353.3L542.3 359.6L545.1 357.6L548.1 350.3L550.7 353.4L553.6 354.5L556.6 361.2L559.6 354.7L562.7 355.4L565.3 359.5L568.1 356.9L570.9 357.6L573.7 360.1L576.5 362.9L579.1 364.7L581.7 363.9L584.5 369.5L587.2 363.1L589.7 361.9L592.3 363.9L594.8 361.4L597.7 366.3L600.4 366.0L603.3 366.3L606.4 373.5L608.7 368.5L611.0 367.7L613.5 370.5L616.1 370.7L618.8 371.6L621.4 370.3L624.2 371.4L626.9 373.2L629.5 379.5L632.2 377.7L635.0 376.9L637.9 377.7L640.8 372.9L643.6 374.8L646.3 370.8L648.8 370.9L651.1 371.8L653.1 373.1L655.7 374.9L657.7 375.0L659.6 374.0L661.9 375.8L663.8 377.8L665.9 376.5L668.1 378.4L670.4 382.7L672.7 384.4L675.0 384.8L677.3 387.9L679.4 387.8L682.2 392.8L685.0 394.2L687.8 394.8L690.3 395.4L692.5 399.5L694.0 400.6L695.3 400.2L696.3 404.6L697.3 409.0L698.4 413.1L699.8 413.3L701.2 417.6L702.8 419.9L704.5 420.1L706.2 424.0L707.9 422.9L709.6 424.7L711.3 425.4L713.7 428.7L716.2 427.5L718.6 433.5L720.7 432.3L722.0 431.0L723.1 432.4L724.1 434.7L725.0 441.1L726.0 448.1L727.0 447.7L728.2 449.0L729.7 454.1L731.2 454.5L732.8 458.2L734.5 455.6L736.1 458.9L737.6 458.7L738.9 461.8L740.1 466.9L741.3 468.1L742.5 467.4L743.7 470.9L744.9 471.6L746.0 474.5L747.1 476.7L748.2 481.4L749.3 482.7L750.3 485.9L751.3 489.6L752.3 492.3L753.4 491.5L754.6 497.8L756.1 499.4L757.7 500.7L759.4 501.5L761.1 501.0L762.6 502.9L764.0 510.0L765.0 513.1L765.9 518.6L766.6 523.2L767.2 521.9L767.9 526.4L768.7 525.6L769.6 530.1L770.5 535.7L771.5 537.0L772.5 539.3L773.6 536.8L774.7 536.9L775.8 537.2L776.9 540.6L778.0 544.7L779.1 548.8L780.2 553.6L781.2 556.6L782.3 557.0L783.4 564.0L784.4 567.3L785.5 566.1L786.5 565.8L787.5 569.5L788.5 569.0L790.0 575.8L791.5 579.0L792.9 579.1L794.1 585.1L795.0 583.6L795.6 582.9L796.3 587.8L797.0 586.5L797.9 589.4L799.0 595.8L800.2 597.5L801.5 598.8L802.9 602.1L804.2 603.2L805.4 606.1L806.4 608.1L807.3 611.6L808.2 613.0L809.1 614.7L810.0 618.1L810.9 620.5L811.9 623.8L812.9 626.4L814.0 628.8L815.1 631.1L816.2 633.3L817.4 636.5L818.6 639.4L819.9 642.0L821.1 643.3L822.4 644.9L823.9 647.2L825.5 649.5L827.1 651.6L828.7 654.2L830.3 657.0L831.8 659.0L833.7 661.2L835.6 665.2L837.5 667.3L839.3 669.1L840.8 667.1L842.3 664.9L843.8 661.9L845.3 660.0L846.8 656.1L848.0 653.2L849.2 651.1L850.5 648.8L851.8 647.9L853.0 645.3L854.2 643.9L855.2 641.5L856.2 637.9L856.9 636.5L857.4 633.5L858.0 631.9L858.4 629.8L858.8 626.0L859.2 624.4L859.6 620.7L859.9 617.8L860.3 616.2L860.7 613.7L861.0 611.9L861.5 609.0L861.9 606.5L862.3 603.0L862.8 600.6L863.3 598.2L863.7 595.8L864.2 593.3L864.7 590.4L865.2 588.4L865.7 586.1L866.2 583.6L866.7 580.9L867.1 577.8L867.6 575.6L868.1 572.4L868.5 569.1L869.0 566.1L869.4 563.1L869.8 561.4L870.2 559.2L870.6 557.4L871.0 554.3L871.4 551.8L871.8 549.6L872.2 547.4L872.5 544.0L872.9 541.6L873.3 539.6L873.6 537.7L874.0 534.9L874.4 532.8L874.7 530.6L875.1 526.9L875.5 524.5L875.8 521.3L876.2 518.4L876.5 516.8L876.8 513.6L877.2 510.6L877.5 507.8L877.8 505.4L878.2 502.6L878.5 499.9L878.9 496.9L879.2 494.7L879.6 492.5L879.9 489.8L880.3 487.3L880.7 485.5L881.2 483.4L881.6 480.7L882.1 478.1L882.6 474.3L883.1 471.7L883.6 468.0L884.1 465.9L884.7 463.4L885.2 460.8L885.8 458.2L886.4 457.1L887.7 454.1L889.1 451.2L890.5 449.7L891.6 451.1L892.7 453.3L893.8 455.6L894.8 459.4L895.4 461.0L896.0 464.1L896.5 465.8L896.9 467.8L897.4 471.1L897.9 474.3L898.4 476.2L898.9 479.6L899.5 481.5L900.3 484.8L901.1 487.6L901.9 490.0L902.7 492.1L903.6 494.3L904.4 497.8L905.2 501.0L905.8 502.8L906.4 504.8L906.9 507.3L907.5 509.7L908.0 513.0L908.6 514.8L909.1 518.1L909.7 521.0L910.2 523.8L910.8 525.6L911.4 527.3L911.9 529.4L912.5 531.1L913.1 533.3L913.7 536.1L914.3 539.2L914.8 542.0L915.4 545.2L916.0 547.0L916.5 549.4L917.0 551.3L917.5 553.6L917.9 556.1L918.4 558.2L918.8 560.7L919.3 563.7L919.7 566.6L920.2 569.6L920.6 572.7L921.1 575.0L921.6 577.5L922.1 580.5L922.6 582.7L923.1 584.3L923.7 586.4L924.2 588.9L924.8 591.0L925.4 594.8L926.0 597.5L926.5 600.9L927.1 602.5L927.6 605.8L928.2 608.7L928.7 611.3L929.2 612.7L929.6 615.1L930.1 618.9L930.5 621.4L930.9 623.8L931.2 626.1L931.6 628.5L931.9 631.4L932.3 633.9L932.8 636.5L933.4 640.1L934.2 643.1L935.1 645.1L936.1 648.5L937.2 650.6L938.2 652.6L939.1 655.5L940.0 658.0L940.6 660.3L941.2 663.5L941.8 665.9L942.4 669.3L942.9 672.2L943.4 674.2L943.8 676.0L944.3 678.1L944.7 681.0L945.2 684.2L945.6 687.2L946.0 689.0L946.3 691.9L946.7 693.9L947.1 697.0L947.5 699.7L947.8 701.8L948.2 704.5L948.5 707.0L948.8 709.3L949.1 713.0L949.5 715.5L949.9 717.7L950.3 721.1L950.8 723.5L951.3 726.1L952.0 728.0L952.7 730.6L953.5 732.4L954.3 735.0L955.2 737.4L956.1 740.5L957.0 742.8L957.9 745.6L958.7 748.3L959.5 751.4L960.3 754.0L961.1 755.4L962.0 757.2L962.9 759.5L963.7 761.6L964.6 765.1L965.5 767.5L966.4 769.6L967.3 772.0L968.3 774.8L969.3 777.9L970.3 780.2L971.3 783.0L972.3 784.8L973.4 788.0L974.4 789.8L975.5 792.6L976.7 794.3L978.2 796.5L979.7 799.5L981.4 802.4L983.0 804.0L984.6 805.5L986.1 807.6L987.5 810.4L988.7 812.9L990.0 815.1L991.2 817.9L992.6 819.5L994.0 822.6L995.5 824.5L997.0 827.5L998.6 828.7L1000.3 831.1L1002.1 834.1L1003.9 835.4L1005.7 838.2L1007.4 840.3L1009.1 842.2L1010.6 844.0L1012.1 846.8L1013.5 847.9L1014.7 849.5L1016.0 852.4L1017.2 855.2L1018.6 856.8L1020.0 858.5L1021.3 861.3L1022.7 863.9L1024.2 866.2L1025.7 868.6L1027.2 870.5L1028.7 873.4L1030.3 874.8L1031.9 876.6L1033.5 878.7L1035.1 881.1L1036.9 883.7L1038.8 884.8L1040.7 887.2L1042.6 889.6L1044.5 891.0L1046.4 893.2L1048.3 895.2L1050.1 897.3L1051.8 898.3L1053.5 900.4L1055.1 901.9L1056.7 904.2L1058.3 907.0L1060.0 908.1L1061.6 910.4L1063.3 912.0L1064.9 914.8L1066.7 916.6L1068.6 919.0L1070.7 921.8L1072.7 924.1L1074.6 927.0L1076.3 930.1L1077.8 932.5L1079.0 933.1L1079.7 933.7L1080.0 933.5" stroke="#ff0000"/>
<path d="M166.5 930.6L166.9 930.9L167.9 931.9L169.5 932.5L171.6 933.0L174.2 932.7L177.1 933.6L180.3 933.6L183.7 932.6L187.2 933.1L190.8 932.5L194.3 934.5L197.7 935.9L200.9 935.3L203.8 935.0L206.3 936.1L208.8 935.4L211.4 935.1L214.0 935.0L216.7 935.5L219.3 936.6L222.0 938.3L224.7 937.5L227.3 939.0L230.0 939.1L232.6 940.1L235.2 940.6L237.7 939.4L240.3 940.0L242.7 939.1L245.2 938.4L247.5 939.0L250.4 940.5L253.2 941.0L255.9 940.4L258.6 941.8L261.2 942.9L263.8 942.0L266.3 942.0L268.9 942.6L271.5 943.8L274.1 942.7L276.7 943.2L279.4 944.7L282.1 945.0L284.8 945.6L287.5 946.3L290.3 946.2L293.0 945.8L295.7 946.5L298.3 946.9L300.9 946.8L303.4 948.1L305.9 947.7L308.7 947.9L311.5 948.8L314.3 949.6L317.0 950.3L319.6 950.0L322.0 948.7L324.3 949.2L326.3 949.2L328.9 947.7L331.1 945.9L332.9 943.1L334.5 940.3L335.6 937.4L336.3 933.1L336.9 930.6L338.0 929.0L340.5 925.0L343.8 924.1L346.4 924.2L349.4 923.4L352.5 922.8L355.5 923.0L357.2 921.4L358.9 919.9L360.6 918.8L362.2 917.2L363.8 915.5L365.4 912.9L366.9 909.7L368.5 905.9L370.1 903.0L371.4 900.9L372.6 899.5L373.8 898.3L375.0 895.3L376.2 892.9L377.4 891.9L378.6 889.0L379.8 887.0L381.0 884.6L382.3 882.3L383.5 879.6L384.9 877.3L386.2 875.4L387.6 872.2L389.2 870.9L390.8 869.6L392.5 865.9L394.2 863.2L396.0 861.0L397.8 858.6L399.5 856.5L401.3 855.7L403.1 853.2L404.8 850.9L406.4 851.0L408.0 848.9L409.7 847.1L411.4 845.1L413.1 842.9L414.7 841.1L416.3 838.6L417.9 837.3L419.5 834.9L421.0 832.4L422.6 830.1L424.1 828.4L425.6 827.7L427.1 825.6L428.6 824.3L430.1 821.2L431.5 818.0L433.0 816.2L434.4 812.8L435.8 811.8L437.2 808.7L438.4 805.9L439.5 803.3L440.7 801.0L441.9 800.2L443.0 799.0L444.2 796.3L445.3 792.9L446.5 789.4L447.6 786.6L448.6 784.5L449.7 783.2L450.8 781.4L451.8 780.1L452.9 778.1L453.9 774.8L454.9 772.7L455.9 770.0L456.8 768.1L457.8 764.6L458.7 763.5L459.6 759.5L460.6 757.5L461.5 754.5L462.5 752.7L463.5 748.8L464.2 748.0L465.0 744.4L465.7 743.1L466.4 741.4L467.2 738.9L468.0 735.7L468.7 733.3L469.5 731.0L470.3 728.1L471.0 725.2L471.8 724.2L472.6 721.9L473.4 718.8L474.1 716.8L474.9 714.6L475.7 711.0L476.5 708.9L477.2 706.7L478.0 703.1L478.8 700.4L479.5 699.2L480.3 696.5L481.0 693.7L481.7 691.3L482.4 689.0L483.1 686.8L483.8 684.6L484.4 681.7L485.1 678.9L485.8 676.5L486.5 673.8L487.1 671.2L487.8 668.7L488.5 666.1L489.1 664.0L489.8 661.3L490.4 659.1L491.1 657.1L491.8 654.2L492.4 652.0L493.1 649.5L493.8 646.7L494.4 644.7L495.1 642.3L495.8 639.6L496.5 637.4L497.1 634.4L497.8 632.4L498.5 630.2L499.2 627.1L499.9 625.0L500.6 622.7L501.4 620.4L502.1 617.4L502.8 615.1L503.5 612.7L504.2 609.9L504.9 607.0L505.6 604.2L506.4 602.0L507.1 599.7L507.8 597.0L508.5 594.9L509.3 592.1L510.0 589.9L510.7 587.6L511.5 585.0L512.2 582.4L513.0 580.7L513.7 578.6L514.5 576.3L515.2 573.4L516.0 571.3L516.9 569.1L517.8 566.6L518.6 564.1L519.5 560.9L520.4 558.5L521.3 555.7L522.2 553.7L523.1 550.7L524.0 548.0L525.0 546.1L525.9 543.2L526.8 540.7L527.7 538.3L528.7 536.4L529.6 534.2L530.6 532.1L531.5 529.3L532.5 526.6L533.5 524.4L534.6 522.2L535.7 519.8L536.8 517.6L538.0 515.2L539.1 512.2L540.2 509.6L541.4 507.1L542.5 504.7L543.7 502.7L544.9 500.4L546.1 498.4L547.3 495.7L548.5 494.1L549.7 491.6L551.0 489.8L552.5 487.7L554.0 484.8L555.6 482.7L557.2 481.0L558.8 478.3L560.4 476.3L562.0 474.2L563.6 472.2L565.2 469.9L566.9 467.8L568.5 465.8L570.2 463.6L571.9 461.4L573.7 459.8L575.4 457.9L577.1 455.4L578.9 452.8L580.7 450.7L582.4 449.3L584.2 447.2L586.0 445.9L588.4 443.5L590.8 441.7L593.3 439.9L595.8 438.7L598.2 437.6L600.6 437.2L603.5 436.9L606.4 437.1L609.3 437.3L612.3 438.6L614.6 438.9L617.1 439.8L619.6 441.2L622.2 442.4L624.7 443.3L627.3 444.9L629.8 446.0L631.9 447.3L633.9 448.8L636.0 450.5L638.0 451.8L640.1 453.4L642.1 455.1L644.2 457.5L646.2 459.6L648.2 461.4L650.2 463.7L651.8 465.5L653.4 467.0L655.0 469.0L656.5 470.6L658.1 472.6L659.6 474.6L661.2 476.6L662.7 479.3L664.2 482.0L665.8 484.5L667.3 486.4L668.9 489.1L670.4 491.1L672.0 493.5L673.6 495.7L675.0 497.6L676.5 499.8L678.0 502.2L679.4 504.3L680.9 506.2L682.4 508.6L683.9 510.8L685.4 512.6L686.9 515.2L688.4 517.0L689.9 518.7L691.3 521.4L692.8 523.8L694.2 525.7L695.7 527.8L697.1 529.9L698.4 531.3L699.8 533.6L701.4 535.9L702.9 538.4L704.4 540.4L705.8 542.2L707.3 544.6L708.7 546.6L710.2 548.9L711.6 550.4L713.0 552.7L714.4 555.0L715.9 556.6L717.3 558.3L718.8 560.5L720.3 562.8L721.9 565.0L723.5 567.0L725.0 568.9L726.6 571.2L728.2 573.6L729.7 575.4L731.3 577.2L732.9 579.6L734.5 581.1L736.0 583.2L737.6 585.5L739.2 587.7L740.7 589.8L742.3 591.8L743.9 593.6L745.4 596.0L747.0 597.4L748.6 599.4L750.2 601.4L751.7 603.7L753.3 605.5L754.9 607.3L756.5 609.3L758.2 611.7L759.9 613.8L761.6 616.2L763.3 618.1L765.0 619.9L766.7 622.1L768.4 624.1L770.1 625.7L771.8 627.8L773.6 629.6L775.3 632.0L777.0 634.4L778.7 636.4L780.4 638.6L782.1 639.9L783.8 642.0L785.5 644.0L787.2 645.5L789.0 647.3L790.7 648.9L792.4 650.7L794.1 652.7L795.8 654.6L797.5 656.5L799.2 658.8L801.0 660.9L802.7 662.5L804.4 664.6L806.1 666.8L807.8 668.2L809.5 670.3L811.2 671.6L812.9 673.3L815.1 675.3L817.3 676.8L819.4 678.4L821.6 680.5L823.8 682.0L825.9 683.5L828.0 684.5L830.9 686.3L833.8 688.1L836.6 689.1L839.3 688.8L841.8 688.2L844.2 686.2L846.5 683.6L848.7 681.1L850.1 679.7L851.3 677.4L852.5 675.0L853.7 672.7L854.8 670.4L855.9 668.0L857.0 665.4L858.1 662.8L859.0 660.3L859.8 657.9L860.7 656.0L861.5 653.4L862.3 651.0L863.1 648.2L863.9 645.1L864.6 642.6L865.4 640.1L866.1 637.4L866.8 634.5L867.5 631.7L868.1 629.2L868.6 627.3L869.1 625.0L869.7 622.9L870.2 620.6L870.7 618.2L871.1 615.7L871.6 613.3L872.1 610.9L872.5 608.3L873.0 605.8L873.4 602.9L873.8 600.7L874.2 598.3L874.7 595.8L875.1 593.5L875.6 590.7L876.0 587.8L876.5 585.0L876.9 582.6L877.3 579.5L877.8 577.0L878.2 574.7L878.6 571.7L879.0 568.7L879.4 566.1L879.8 563.6L880.3 561.2L880.7 558.5L881.2 555.7L881.6 552.9L882.1 550.3L882.5 547.4L883.0 544.7L883.4 541.9L883.9 539.6L884.4 537.2L884.9 534.6L885.4 532.9L885.9 530.5L886.4 529.1L887.6 524.8L888.8 521.6L890.1 520.3L891.4 521.8L892.7 524.9L893.9 528.9L894.6 531.4L895.2 534.0L895.8 536.8L896.4 539.5L897.0 542.5L897.6 545.7L898.2 548.6L898.8 551.7L899.4 554.5L900.1 557.5L900.7 559.8L901.5 562.1L902.4 564.9L903.5 567.2L904.8 569.4L906.2 571.8L907.6 573.4L908.9 575.4L910.2 577.9L911.5 580.1L912.7 582.3L914.0 585.3L915.3 588.0L916.5 590.7L917.5 593.3L918.5 595.6L919.5 598.2L920.4 600.8L921.3 603.7L922.3 606.3L923.1 609.0L924.0 611.6L924.8 614.1L925.6 616.2L926.3 619.0L927.0 621.8L927.7 623.7L928.6 626.3L929.6 628.6L930.8 631.0L932.1 632.6L933.5 634.3L934.9 636.6L936.4 638.9L937.8 640.7L939.1 643.5L940.2 645.4L941.2 648.3L942.2 651.0L943.1 653.7L944.1 656.4L945.1 658.7L946.1 661.3L947.2 663.3L948.5 666.1L949.8 668.1L951.2 670.0L952.7 672.6L954.2 674.4L955.8 676.8L957.3 679.4L958.9 681.4L960.5 683.5L962.0 685.8L963.5 688.0L965.0 690.2L966.5 692.1L967.9 695.0L969.4 697.5L970.8 699.7L972.2 702.1L973.7 704.0L975.2 706.0L976.7 707.8L978.5 710.3L980.3 712.8L982.1 714.8L984.0 716.8L985.9 719.0L987.9 720.8L989.9 723.2L991.9 724.8L994.0 727.1L996.1 728.7L998.3 730.1L1000.5 731.3L1002.7 733.1L1004.9 734.2L1007.4 735.8L1009.9 737.8L1012.4 739.4L1015.0 740.8L1017.5 742.1L1020.0 743.5L1022.2 745.0L1024.4 746.5L1026.5 747.4L1028.7 749.2L1030.9 751.0L1033.0 752.4L1035.1 753.6L1037.3 754.9L1039.5 756.7L1041.7 758.3L1043.8 760.7L1045.9 762.8L1048.0 765.0L1050.1 767.1L1052.0 768.6L1053.9 770.7L1055.8 772.6L1057.6 774.4L1059.5 775.7L1061.4 778.1L1063.3 780.1L1065.3 782.0L1067.5 784.6L1070.0 786.7L1072.4 788.9L1074.8 791.7L1076.8 794.2L1078.5 795.9L1079.6 797.1L1080.0 797.7" stroke="#0000ff"/>
</g>
<g fill="none" stroke-width="8.4" stroke-linejoin="round" stroke-linecap="butt" clip-path="url(#cr)">
<path d="M1103.0 1284.4L1104.4 1284.8L1107.1 1285.1L1109.3 1285.2L1112.0 1285.5L1115.0 1286.1L1118.2 1286.7L1121.6 1286.8L1123.7 1286.9L1125.9 1287.4L1128.2 1287.5L1130.6 1287.9L1133.1 1288.0L1135.7 1288.4L1138.3 1288.9L1141.0 1289.0L1143.7 1289.1L1146.3 1289.2L1149.0 1289.5L1151.6 1289.7L1154.1 1289.8L1156.6 1289.9L1159.2 1290.0L1161.8 1289.9L1164.4 1289.9L1167.1 1290.0L1169.7 1289.9L1172.3 1290.1L1174.8 1290.3L1177.3 1290.4L1179.8 1290.2L1182.2 1290.1L1184.4 1290.4L1186.6 1290.2L1189.8 1290.4L1192.9 1290.0L1195.8 1290.1L1198.6 1289.7L1201.3 1289.9L1203.9 1290.4L1206.5 1291.0L1208.9 1292.1L1211.3 1293.3L1213.5 1294.3L1215.8 1294.2L1218.3 1293.5L1220.8 1292.0L1223.2 1290.6L1225.6 1289.5L1228.5 1288.8L1231.3 1288.7L1234.2 1288.8L1236.9 1289.9L1239.6 1291.6L1242.4 1293.7L1245.0 1294.3L1247.2 1293.4L1249.4 1292.0L1251.5 1290.4L1253.7 1289.2L1256.5 1288.5L1259.5 1288.3L1262.4 1288.7L1264.8 1289.3L1267.3 1290.7L1269.8 1291.8L1272.1 1292.2L1274.8 1291.3L1277.3 1289.4L1279.7 1287.2L1281.8 1284.6L1283.8 1281.9L1286.2 1280.0L1288.5 1279.3L1291.2 1280.0L1294.0 1280.4L1296.8 1280.7L1299.2 1280.3L1301.1 1278.8L1302.8 1277.0L1304.3 1274.8L1305.9 1272.7L1307.8 1270.9L1310.2 1269.2L1312.7 1267.9L1315.4 1267.0L1318.2 1265.8L1320.8 1264.5L1323.0 1262.8L1325.3 1261.4L1327.5 1259.7L1329.7 1258.0L1331.8 1256.6L1333.8 1255.3L1336.8 1253.2L1339.7 1251.4L1342.4 1250.8L1345.0 1252.4L1347.6 1255.4L1350.0 1256.3L1351.6 1255.3L1353.0 1253.1L1354.4 1250.6L1355.9 1247.8L1357.6 1245.6L1359.5 1243.6L1361.6 1241.5L1363.8 1239.8L1366.1 1238.0L1368.4 1237.2L1371.1 1236.7L1373.9 1236.7L1376.7 1236.8L1379.2 1236.3L1381.1 1234.8L1382.8 1232.7L1384.4 1230.3L1386.1 1228.1L1387.9 1226.4L1389.9 1224.9L1392.0 1223.3L1394.2 1222.3L1396.4 1220.8L1398.7 1219.7L1401.2 1218.9L1403.9 1218.4L1406.7 1217.5L1409.3 1216.4L1411.7 1215.4L1414.0 1213.7L1416.1 1211.3L1418.1 1209.3L1420.4 1207.9L1423.0 1206.4L1425.7 1205.4L1428.5 1204.6L1431.2 1204.6L1434.2 1204.7L1437.1 1205.5L1439.9 1206.9L1441.8 1208.0L1443.5 1209.8L1445.2 1211.7L1446.8 1214.3L1448.5 1216.6L1449.8 1218.4L1451.2 1220.7L1452.5 1223.0L1453.9 1224.9L1455.2 1227.0L1456.6 1229.3L1457.9 1231.5L1459.3 1233.7L1460.8 1236.0L1462.4 1238.5L1464.0 1240.8L1465.6 1243.1L1467.2 1245.2L1468.7 1247.0L1470.2 1249.2L1471.7 1251.2L1473.0 1253.6L1474.4 1255.8L1475.7 1258.3L1477.2 1260.2L1478.8 1262.2L1480.8 1263.6L1482.9 1264.8L1485.1 1265.9L1487.4 1267.3L1489.6 1268.7L1491.8 1270.0L1494.2 1271.1L1496.5 1272.0L1498.6 1273.2L1500.5 1274.6L1502.0 1277.1L1503.2 1279.6L1504.2 1282.4L1505.4 1284.3L1507.0 1285.6L1509.4 1285.7L1512.2 1284.4L1515.1 1282.8L1517.8 1282.6L1520.7 1283.1L1523.5 1284.1L1526.4 1285.8L1528.5 1287.4L1530.7 1288.9L1532.8 1290.2L1535.1 1291.5L1537.3 1292.4L1540.0 1292.3L1542.9 1291.7L1545.6 1291.1L1548.1 1290.3L1550.9 1289.1L1553.8 1288.3L1556.2 1288.6L1558.9 1289.9L1561.8 1290.9L1564.8 1292.0L1567.7 1292.6L1570.5 1292.3L1573.3 1291.0L1576.1 1289.6L1578.9 1288.6L1581.5 1288.0L1584.2 1288.4L1586.9 1289.8L1589.4 1290.9L1591.9 1291.4L1594.0 1290.6L1596.1 1288.5L1598.1 1286.2L1600.2 1284.2L1602.3 1282.4L1604.5 1281.0L1606.9 1279.6L1609.2 1278.6L1611.6 1277.3L1613.8 1275.7L1615.6 1274.0L1617.3 1272.2L1619.0 1270.0L1620.6 1267.7L1622.2 1265.5L1623.8 1263.2L1625.3 1261.1L1626.6 1259.5L1627.8 1257.4L1629.0 1255.3L1630.1 1253.1L1631.2 1250.9L1632.4 1248.2L1633.5 1245.8L1634.6 1243.5L1635.7 1240.9L1636.8 1238.5L1637.8 1236.2L1638.8 1233.7L1639.8 1231.3L1640.8 1228.9L1641.7 1226.4L1642.7 1224.3L1643.6 1221.9L1644.6 1219.4L1645.6 1217.3L1646.5 1214.8L1647.5 1212.8L1648.4 1210.7L1649.6 1207.9L1650.7 1205.5L1651.8 1203.4L1652.9 1200.8L1654.1 1198.4L1655.2 1196.1L1656.4 1194.1L1657.6 1192.0L1659.1 1189.7L1660.6 1186.9L1662.1 1184.5L1663.7 1181.9L1665.3 1180.1L1666.8 1179.2L1669.0 1180.3L1671.2 1182.9L1673.7 1185.1L1676.6 1185.4L1679.8 1185.1L1683.0 1185.2L1685.4 1186.4L1687.8 1188.3L1690.3 1190.1L1692.5 1192.1L1694.5 1194.3L1696.0 1196.6L1697.2 1198.8L1698.3 1200.9L1699.4 1203.3L1700.4 1205.6L1701.4 1208.1L1702.2 1210.6L1702.9 1212.8L1703.6 1215.4L1704.3 1218.3L1704.9 1220.7L1705.6 1223.4L1706.2 1226.3L1706.9 1229.0L1707.6 1231.6L1708.3 1234.1L1709.2 1236.8L1710.2 1239.4L1711.1 1242.1L1712.1 1245.0L1713.1 1247.4L1714.1 1249.7L1715.2 1252.0L1716.5 1254.9L1717.8 1257.2L1719.2 1259.4L1720.7 1261.7L1722.2 1263.8L1724.4 1265.9L1726.7 1267.8L1729.1 1268.5L1731.2 1267.6L1733.3 1265.7L1735.3 1263.7L1737.2 1261.5L1738.5 1259.7L1739.7 1257.4L1740.8 1254.6L1741.8 1252.0L1742.9 1249.5L1744.1 1247.6L1745.7 1244.7L1747.4 1241.7L1749.1 1239.3L1751.0 1238.1L1753.6 1238.7L1756.4 1240.7L1759.1 1243.2L1761.0 1244.9L1762.8 1247.4L1764.6 1250.2L1766.4 1252.5L1768.3 1254.3L1770.5 1256.4L1772.7 1258.4L1775.1 1259.4L1777.5 1260.0L1780.2 1259.9L1783.1 1259.2L1786.1 1257.9L1789.0 1256.4L1791.0 1255.3L1793.0 1254.3L1795.0 1252.7L1797.0 1250.8L1799.0 1249.3L1801.0 1247.2L1802.9 1245.1L1804.7 1243.1L1806.4 1241.0L1808.1 1239.4L1809.8 1237.3L1811.5 1235.5L1813.2 1233.3L1815.0 1230.9L1816.7 1229.0L1818.7 1226.9L1820.6 1224.8L1822.6 1222.8L1824.6 1221.2L1826.6 1219.5L1828.6 1217.7L1830.5 1215.3L1832.1 1213.5L1833.6 1211.3L1835.2 1209.4L1836.7 1207.4L1838.2 1204.8L1839.7 1202.5L1841.2 1200.7L1842.8 1199.0L1844.4 1197.2L1846.3 1194.6L1848.2 1192.5L1850.2 1190.4L1852.2 1188.4L1854.2 1186.6L1856.2 1185.3L1858.2 1184.1L1861.0 1183.9L1863.9 1184.7L1866.8 1185.5L1869.7 1185.8L1872.7 1185.8L1875.7 1186.3L1878.6 1186.2L1881.3 1185.6L1883.4 1184.6L1885.3 1182.9L1887.1 1181.1L1888.8 1178.9L1890.5 1176.5L1891.7 1174.3L1892.8 1172.0L1893.9 1169.6L1894.9 1166.8L1895.9 1164.3L1896.9 1161.5L1897.8 1158.5L1898.8 1155.7L1899.7 1153.2L1900.5 1150.5L1901.3 1147.9L1902.1 1145.6L1902.8 1142.9L1903.6 1140.8L1904.3 1138.5L1905.1 1135.8L1905.8 1133.2L1906.5 1130.9L1907.3 1128.6L1908.0 1126.2L1908.8 1123.7L1909.6 1120.9L1910.4 1118.4L1911.2 1115.9L1912.0 1113.5L1912.8 1110.9L1913.7 1108.2L1914.6 1105.8L1915.5 1103.2L1916.4 1100.8L1917.3 1098.2L1918.3 1095.8L1919.3 1093.2L1920.4 1090.7L1921.4 1088.2L1922.5 1085.7L1923.5 1083.4L1924.6 1080.9L1925.5 1078.4L1926.5 1075.7L1927.4 1072.8L1928.1 1070.4L1928.7 1068.3L1929.4 1065.5L1930.0 1063.0L1930.6 1060.6L1931.2 1057.9L1931.8 1055.4L1932.3 1052.7L1932.9 1050.3L1933.4 1047.9L1934.0 1045.1L1934.5 1042.6L1935.0 1039.6L1935.6 1036.8L1936.1 1034.1L1936.7 1031.8L1937.2 1029.1L1937.8 1026.6L1938.4 1024.3L1939.0 1021.7L1939.6 1019.1L1940.2 1016.6L1940.7 1014.2L1941.3 1011.7L1941.9 1009.1L1942.5 1006.4L1943.1 1004.2L1943.7 1001.7L1944.3 999.3L1944.9 996.7L1945.4 993.9L1946.0 991.2L1946.5 988.7L1947.1 985.8L1947.6 983.4L1948.1 980.6L1948.5 978.3L1948.9 976.1L1949.3 973.5L1949.7 970.9L1950.1 968.5L1950.5 965.8L1950.9 963.3L1951.2 960.7L1951.6 958.6L1951.9 956.1L1952.3 953.7L1952.6 951.1L1952.9 948.4L1953.3 945.7L1953.6 943.5L1953.9 940.9L1954.3 938.3L1954.6 935.6L1954.9 933.3L1955.2 930.5L1955.6 928.1L1955.9 925.6L1956.2 923.2L1956.5 920.8L1956.8 918.1L1957.2 915.6L1957.5 912.9L1957.8 910.5L1958.1 908.1L1958.4 905.7L1958.7 902.9L1959.0 900.6L1959.3 897.7L1959.6 895.4L1959.9 892.7L1960.2 890.1L1960.5 887.8L1960.8 885.1L1961.1 882.8L1961.4 880.4L1961.7 878.0L1962.0 875.4L1962.3 873.1L1962.5 870.6L1962.8 868.0L1963.1 865.5L1963.4 862.8L1963.7 860.3L1963.9 857.7L1964.2 855.0L1964.5 852.7L1964.7 850.4L1965.0 847.8L1965.3 845.1L1965.6 842.7L1965.8 840.1L1966.1 837.7L1966.3 835.3L1966.6 832.6L1966.8 830.0L1967.1 827.6L1967.3 825.2L1967.6 822.8L1967.8 820.5L1968.0 817.9L1968.3 815.5L1968.5 812.7L1968.7 810.0L1968.9 807.8L1969.1 805.4L1969.3 802.6L1969.5 799.8L1969.6 797.1L1969.8 794.5L1970.0 791.7L1970.1 789.2L1970.3 786.8L1970.4 784.1L1970.6 781.3L1970.7 778.6L1970.9 776.0L1971.0 773.5L1971.2 770.9L1971.3 768.1L1971.4 765.5L1971.6 763.5L1971.7 761.2L1971.8 758.6L1972.0 756.3L1972.1 754.3L1972.3 752.0L1972.4 750.1L1972.6 747.2L1972.9 744.2L1973.1 741.5L1973.3 738.8L1973.5 736.6L1973.8 734.1L1974.0 731.6L1974.2 728.8L1974.5 726.0L1974.7 722.9L1974.9 721.0L1975.0 719.0L1975.2 716.5L1975.3 714.0L1975.5 711.8L1975.6 709.3L1975.8 706.8L1976.0 704.3L1976.1 702.1L1976.3 699.3L1976.5 696.9L1976.7 694.3L1976.8 691.7L1977.0 688.9L1977.2 686.0L1977.4 683.3L1977.5 680.8L1977.7 678.1L1977.9 675.4L1978.1 672.5L1978.3 669.8L1978.4 666.9L1978.6 664.2L1978.8 661.4L1979.0 658.8L1979.1 656.4L1979.3 653.6L1979.5 650.9L1979.6 648.5L1979.8 645.9L1980.0 643.6L1980.2 640.9L1980.3 638.1L1980.5 635.5L1980.7 632.9L1980.9 630.4L1981.0 627.7L1981.2 625.5L1981.4 622.9L1981.6 620.5L1981.7 617.9L1981.9 615.3L1982.1 612.6L1982.2 610.3L1982.4 607.5L1982.6 605.0L1982.8 602.3L1982.9 599.7L1983.1 597.0L1983.3 594.8L1983.4 592.1L1983.6 589.7L1983.7 587.2L1983.9 584.8L1984.1 582.1L1984.2 579.5L1984.4 577.0L1984.5 574.4L1984.7 571.6L1984.8 568.9L1985.0 566.6L1985.1 563.8L1985.3 561.3L1985.4 558.8L1985.6 556.3L1985.7 553.6L1985.9 551.1L1986.0 548.6L1986.1 545.9L1986.3 543.1L1986.4 540.5L1986.6 538.0L1986.7 535.3L1986.9 532.9L1987.0 530.2L1987.1 527.5L1987.3 525.2L1987.4 522.6L1987.5 520.3L1987.7 517.6L1987.8 515.1L1987.9 512.6L1988.1 510.1L1988.2 507.6L1988.4 505.2L1988.5 502.8L1988.6 499.9L1988.8 497.6L1988.9 495.2L1989.0 492.5L1989.2 489.9L1989.3 487.4L1989.4 485.2L1989.6 482.4L1989.7 479.8L1989.8 477.6L1990.0 475.0L1990.1 472.7L1990.2 470.2L1990.3 467.9L1990.4 465.2L1990.6 462.6L1990.7 460.2L1990.8 457.8L1990.9 455.3L1991.0 452.6L1991.1 450.1L1991.2 447.7L1991.3 445.2L1991.4 442.9L1991.5 440.3L1991.6 437.7L1991.7 435.2L1991.8 432.6L1991.9 430.2L1991.9 427.5L1992.0 425.0L1992.1 422.4L1992.2 419.6L1992.3 417.1L1992.4 414.5L1992.5 412.1L1992.6 409.4L1992.7 407.3L1992.8 404.7L1993.0 402.4L1993.1 399.8L1993.2 397.3L1993.4 395.0L1993.6 392.5L1993.7 390.2L1993.9 387.8L1994.1 385.5L1994.3 383.1L1994.4 380.4L1994.6 377.8L1994.8 375.7L1995.0 373.3L1995.2 370.9L1995.4 368.6L1995.6 366.1L1995.8 363.4L1995.9 360.7L1996.1 358.1L1996.3 355.3L1996.4 352.6L1996.6 349.7L1996.7 347.8L1996.8 345.7L1996.9 343.4L1997.0 341.2L1997.2 338.7L1997.3 336.1L1997.4 333.6L1997.5 331.1L1997.6 328.7L1997.7 325.9L1997.7 323.3L1997.8 321.1L1997.9 318.4L1998.0 315.7L1998.1 313.3L1998.2 310.6L1998.3 308.2L1998.4 305.2L1998.5 302.4L1998.6 299.8L1998.7 297.3L1998.7 294.5L1998.8 291.9L1998.9 289.4L1999.0 286.8L1999.1 284.0L1999.2 281.1L1999.3 278.3L1999.4 275.5L1999.4 273.0L1999.5 270.7L1999.6 267.8L1999.7 265.3L1999.8 262.8L1999.9 260.1L2000.0 257.7L2000.1 254.9L2000.2 252.6L2000.3 249.7L2000.4 247.0L2000.5 244.3L2000.6 241.6L2000.7 238.9L2000.8 236.5L2000.9 233.9L2000.9 231.6L2001.0 229.0L2001.1 226.1L2001.2 223.8L2001.3 220.8L2001.4 218.3L2001.5 215.7L2001.6 213.0L2001.7 210.4L2001.8 207.7L2001.9 205.2L2002.0 202.7L2002.1 200.2L2002.2 197.8L2002.3 194.9L2002.4 192.6L2002.5 189.9L2002.6 187.4L2002.7 184.6L2002.8 182.2L2002.9 179.7L2003.0 177.4L2003.1 175.0L2003.2 172.8L2003.3 170.1L2003.4 167.5L2003.5 165.2L2003.6 162.2L2003.7 159.4L2003.9 156.8L2004.0 154.4L2004.1 151.8L2004.3 148.8L2004.4 145.8L2004.5 143.0L2004.6 140.2L2004.8 137.9L2004.9 135.2L2005.0 132.4L2005.2 130.1L2005.3 127.4L2005.4 124.8L2005.6 122.0L2005.7 119.3L2005.8 116.8L2006.0 114.3L2006.1 112.0L2006.2 109.7L2006.4 107.4L2006.5 105.0L2006.6 102.4L2006.8 100.1L2006.9 98.3L2007.0 96.0L2007.2 93.3L2007.3 90.3L2007.5 87.7L2007.7 84.8L2007.9 82.4L2008.0 79.8L2008.2 77.5L2008.4 75.2L2008.5 72.5L2008.7 70.2L2008.8 68.0L2009.0 65.4L2009.2 62.7L2009.3 60.3L2009.5 57.4L2009.6 54.3L2009.8 51.3L2010.0 47.7L2010.2 44.3L2010.4 41.1L2010.6 38.0L2010.7 35.2L2010.8 33.0L2010.9 31.3L2011.0 30.4L2011.0 30.2" stroke="#a0a0a0"/>
<path d="M1103.0 923.2L1104.3 923.4L1107.1 923.0L1108.6 923.3L1110.6 923.3L1112.9 922.9L1115.5 923.0L1118.3 923.1L1121.3 922.7L1124.4 922.9L1127.6 922.7L1130.6 922.7L1133.6 922.8L1136.5 923.0L1139.1 923.2L1141.4 923.2L1143.3 923.5L1146.2 924.3L1148.6 925.5L1150.7 926.8L1153.0 927.1L1155.4 926.6L1157.7 925.7L1160.1 924.2L1162.8 923.4L1165.4 922.8L1168.4 922.9L1171.5 922.7L1174.6 922.7L1177.5 923.2L1180.1 923.4L1183.3 924.2L1186.1 925.3L1188.8 925.7L1191.9 925.0L1195.2 924.0L1197.4 923.7L1200.0 923.4L1202.8 923.3L1205.6 923.4L1208.2 923.9L1210.4 924.1L1213.8 925.9L1216.9 927.1L1219.0 925.9L1221.1 923.9L1223.3 921.7L1225.6 920.1L1228.4 919.4L1231.3 918.9L1234.2 918.9L1236.6 919.6L1239.2 920.9L1241.6 921.8L1244.0 922.0L1246.0 920.8L1247.9 918.9L1249.8 916.7L1251.7 914.4L1253.7 912.2L1256.3 910.8L1259.0 909.8L1261.8 908.8L1264.5 907.7L1267.5 907.2L1270.5 907.3L1273.2 906.8L1275.3 905.5L1277.3 903.9L1279.1 901.7L1280.8 899.5L1282.0 897.1L1283.0 894.7L1284.0 892.1L1284.9 889.1L1285.9 886.3L1287.2 883.9L1289.0 881.8L1291.0 879.8L1293.2 877.6L1295.2 875.7L1297.0 873.2L1298.2 871.2L1299.2 868.6L1300.0 865.8L1300.9 863.1L1301.7 860.6L1302.5 858.1L1303.5 855.9L1304.7 853.4L1306.0 851.1L1307.3 848.9L1308.7 847.3L1310.0 845.2L1311.6 842.7L1313.1 840.3L1314.7 838.1L1316.5 835.2L1317.8 833.2L1319.1 831.4L1320.6 829.2L1322.1 827.0L1323.6 824.8L1325.2 822.3L1326.7 820.2L1328.1 818.2L1329.5 816.3L1331.3 813.7L1333.0 811.3L1334.7 808.7L1336.4 806.6L1338.1 805.1L1341.5 802.8L1344.6 802.0L1346.7 804.8L1348.9 807.1L1350.4 806.5L1352.2 804.7L1354.1 802.4L1356.1 799.4L1358.0 796.8L1359.8 794.4L1361.5 792.0L1363.2 789.8L1364.8 787.7L1366.5 785.4L1368.4 783.4L1371.0 782.3L1373.8 781.4L1376.6 780.8L1379.2 779.3L1380.9 777.5L1382.3 775.6L1383.6 772.9L1384.9 770.8L1386.3 768.3L1387.9 766.4L1389.9 764.6L1392.1 762.8L1394.3 760.8L1396.5 759.4L1398.7 757.8L1401.6 756.1L1404.6 754.7L1407.4 753.0L1409.6 751.6L1411.7 749.7L1413.8 748.0L1416.0 747.0L1418.9 746.1L1421.8 745.7L1424.7 746.2L1427.0 746.9L1429.2 748.5L1431.3 750.3L1433.4 752.1L1435.3 754.2L1437.0 756.2L1438.8 758.6L1440.4 761.1L1442.0 763.8L1443.1 765.8L1444.1 768.0L1445.1 770.7L1446.0 773.4L1447.0 775.9L1447.9 778.5L1448.8 780.7L1449.8 783.1L1450.7 785.7L1451.7 788.4L1452.6 790.5L1453.5 793.2L1454.5 795.9L1455.4 798.0L1456.4 800.3L1457.3 803.0L1458.3 805.1L1459.3 807.2L1460.5 809.9L1461.7 812.6L1463.0 815.1L1464.2 817.4L1465.5 819.8L1466.7 822.1L1468.0 824.8L1469.2 827.5L1470.4 830.2L1471.5 832.5L1472.7 834.9L1473.9 837.6L1475.3 839.9L1476.7 842.2L1478.6 844.6L1480.7 846.6L1482.9 848.6L1485.2 850.6L1487.5 851.8L1490.2 852.6L1493.0 852.8L1495.8 852.7L1498.3 853.1L1500.7 855.4L1502.8 857.8L1504.8 859.0L1506.2 858.1L1507.4 855.9L1508.6 853.1L1509.9 850.5L1511.3 848.0L1512.7 846.0L1514.1 843.8L1515.6 841.8L1517.2 839.5L1518.8 837.1L1520.4 835.2L1522.1 833.4L1524.2 831.5L1526.5 829.8L1528.7 828.3L1530.9 826.5L1532.9 824.6L1534.4 822.7L1535.7 820.3L1537.0 817.7L1538.2 815.1L1539.3 812.2L1540.4 809.6L1541.6 807.6L1543.4 805.0L1545.1 802.9L1546.9 800.7L1548.3 798.4L1549.6 796.5L1551.1 794.2L1552.6 791.6L1554.3 789.2L1556.1 786.9L1558.2 784.9L1560.5 782.9L1563.0 781.3L1565.5 779.6L1567.8 778.0L1570.0 776.4L1572.0 774.6L1573.8 772.1L1575.6 769.8L1577.3 768.1L1579.2 767.2L1582.0 766.4L1584.8 766.4L1587.3 767.3L1589.6 770.1L1591.9 772.5L1594.4 771.5L1597.2 769.1L1600.0 767.8L1601.9 768.7L1603.8 770.4L1605.8 772.7L1607.7 775.1L1609.6 777.4L1611.5 779.7L1613.2 781.9L1614.8 784.2L1616.3 786.8L1617.9 789.1L1619.5 791.8L1621.2 793.8L1623.0 796.2L1624.9 797.8L1626.8 799.9L1628.9 801.4L1631.0 803.1L1633.0 804.6L1635.0 806.2L1636.8 807.7L1639.7 810.4L1642.3 812.6L1644.9 813.2L1646.6 812.3L1648.1 810.6L1649.7 808.1L1651.3 805.2L1653.0 802.7L1654.8 800.6L1656.6 798.3L1658.6 795.9L1660.6 793.7L1662.5 791.7L1664.5 790.9L1666.8 791.1L1669.2 792.2L1671.5 794.2L1673.7 796.3L1675.4 797.9L1677.1 800.2L1678.7 802.3L1680.2 804.9L1681.7 807.4L1683.0 810.0L1684.0 812.5L1684.8 815.0L1685.6 817.4L1686.3 820.0L1687.0 822.6L1687.6 825.3L1688.3 828.0L1689.1 830.5L1689.9 833.1L1690.7 835.5L1691.6 838.0L1692.5 840.4L1693.4 843.4L1694.3 846.0L1695.2 848.6L1696.2 851.0L1697.1 853.6L1698.1 856.2L1699.1 858.6L1700.3 861.4L1701.4 864.1L1702.5 866.4L1703.7 868.8L1705.1 871.1L1706.6 873.5L1708.3 875.8L1710.2 877.6L1712.4 879.0L1714.8 880.2L1717.2 880.9L1719.7 881.6L1722.2 882.8L1724.5 883.6L1727.3 885.0L1730.1 886.5L1732.9 887.4L1735.6 888.4L1738.3 888.4L1740.6 887.8L1742.9 886.7L1745.2 885.4L1747.4 883.7L1749.7 882.2L1752.1 880.6L1754.3 879.4L1756.6 878.1L1759.0 876.6L1761.3 875.2L1763.6 873.9L1766.0 872.3L1768.3 870.8L1770.6 869.5L1772.9 868.2L1775.1 866.7L1777.4 865.6L1779.7 864.2L1782.0 862.9L1784.4 862.0L1786.7 861.0L1789.0 860.0L1791.4 859.0L1793.8 857.9L1796.2 856.8L1798.6 856.0L1800.8 854.7L1802.9 853.7L1805.1 851.8L1807.1 849.9L1809.1 848.1L1811.0 845.8L1812.8 843.9L1814.7 841.6L1816.7 839.7L1818.7 838.1L1820.7 836.4L1822.7 834.8L1824.7 833.5L1826.7 831.7L1828.7 830.0L1830.5 828.2L1832.3 826.2L1833.9 823.9L1835.5 821.6L1837.1 819.3L1838.6 816.9L1840.3 815.0L1842.1 813.4L1844.8 811.8L1847.6 810.2L1850.6 809.0L1853.6 808.6L1856.3 809.1L1859.2 810.0L1862.0 811.1L1864.8 812.1L1867.4 812.1L1869.9 811.5L1872.2 810.8L1874.5 809.4L1876.7 807.7L1878.4 805.8L1880.1 803.5L1881.8 801.6L1883.4 798.9L1885.0 796.5L1886.6 793.8L1888.2 791.4L1889.7 789.3L1891.1 786.9L1892.5 784.7L1893.9 782.8L1895.3 780.5L1896.8 778.3L1898.2 775.6L1899.7 773.4L1901.1 771.2L1902.5 769.0L1903.9 766.7L1905.3 764.3L1906.8 761.9L1908.2 759.8L1909.6 757.7L1911.0 755.4L1912.3 753.1L1913.6 750.5L1914.8 747.9L1915.9 745.5L1917.0 742.9L1918.1 740.3L1919.2 737.7L1920.3 735.5L1921.3 733.3L1922.3 730.7L1923.2 728.1L1924.2 725.5L1925.1 722.6L1925.9 720.5L1926.6 718.3L1927.3 715.6L1928.0 713.5L1928.7 711.0L1929.3 708.5L1930.0 705.7L1930.6 703.4L1931.2 701.0L1931.8 698.6L1932.4 695.8L1933.0 693.2L1933.7 690.9L1934.3 688.6L1934.9 686.0L1935.5 683.6L1936.1 681.0L1936.7 678.7L1937.3 676.5L1937.9 673.8L1938.5 671.2L1939.1 669.0L1939.7 666.3L1940.3 664.0L1940.8 661.6L1941.4 659.2L1941.9 656.6L1942.5 654.3L1943.0 651.9L1943.5 649.3L1944.0 646.5L1944.5 644.1L1945.0 641.8L1945.4 639.0L1945.9 636.1L1946.3 633.5L1946.7 631.1L1947.1 628.7L1947.5 626.3L1947.9 623.5L1948.3 620.8L1948.8 618.2L1949.2 615.7L1949.6 613.1L1950.0 610.4L1950.4 607.6L1950.8 605.2L1951.2 602.5L1951.6 599.9L1952.0 597.2L1952.4 594.8L1952.8 592.0L1953.2 589.8L1953.6 587.1L1954.0 584.7L1954.4 582.1L1954.8 579.3L1955.2 577.0L1955.6 574.4L1955.9 571.8L1956.3 569.4L1956.7 566.9L1957.0 564.2L1957.4 561.5L1957.8 559.0L1958.1 556.2L1958.4 553.5L1958.8 550.9L1959.1 548.7L1959.4 546.3L1959.8 543.9L1960.1 541.4L1960.4 538.7L1960.7 535.8L1961.0 533.2L1961.3 530.7L1961.6 528.1L1961.9 525.5L1962.2 523.0L1962.5 520.5L1962.8 517.7L1963.1 515.1L1963.4 512.4L1963.7 510.1L1963.9 507.4L1964.2 504.9L1964.5 502.1L1964.7 499.4L1965.0 496.6L1965.2 494.2L1965.5 491.5L1965.8 488.8L1966.0 486.4L1966.2 483.9L1966.5 481.1L1966.7 478.6L1967.0 476.4L1967.2 473.8L1967.5 471.7L1967.7 469.3L1968.0 466.6L1968.3 463.9L1968.6 461.3L1968.9 458.4L1969.2 456.1L1969.5 453.3L1969.8 450.9L1970.1 448.5L1970.4 445.8L1970.7 442.9L1971.0 440.2L1971.3 437.6L1971.5 435.1L1971.8 432.7L1972.1 430.3L1972.3 427.6L1972.6 425.2L1972.9 422.3L1973.1 419.8L1973.4 417.1L1973.7 414.3L1974.0 411.4L1974.3 408.6L1974.6 405.9L1974.9 403.0L1975.2 400.7L1975.5 398.1L1975.8 395.7L1976.1 393.1L1976.4 390.6L1976.7 388.0L1977.1 385.8L1977.4 383.3L1977.7 380.9L1978.1 378.3L1978.4 375.7L1978.8 373.1L1979.1 370.8L1979.5 368.1L1979.8 365.4L1980.1 362.9L1980.4 360.4L1980.7 358.1L1981.0 355.5L1981.3 352.7L1981.6 350.0L1981.8 347.6L1982.0 345.0L1982.2 342.8L1982.4 340.5L1982.6 337.7L1982.8 335.0L1983.0 332.7L1983.2 330.1L1983.3 327.7L1983.5 325.1L1983.7 322.5L1983.8 319.6L1984.0 316.8L1984.1 314.0L1984.3 311.6L1984.4 308.8L1984.6 306.3L1984.7 303.7L1984.9 301.1L1985.0 298.4L1985.1 295.9L1985.3 293.0L1985.4 290.2L1985.6 287.6L1985.7 285.3L1985.9 282.7L1986.0 280.2L1986.1 277.3L1986.3 274.6L1986.4 272.2L1986.6 269.9L1986.7 267.3L1986.8 264.5L1987.0 262.2L1987.1 259.3L1987.2 256.7L1987.4 254.5L1987.5 251.9L1987.6 249.3L1987.8 246.7L1987.9 244.4L1988.0 241.8L1988.2 239.1L1988.3 236.3L1988.4 233.6L1988.5 231.3L1988.6 228.6L1988.8 226.1L1988.9 223.5L1989.0 221.3L1989.1 218.5L1989.3 216.2L1989.4 213.9L1989.5 211.3L1989.6 208.4L1989.7 205.9L1989.9 203.4L1990.0 200.8L1990.1 198.3L1990.2 195.7L1990.3 193.4L1990.5 190.9L1990.6 188.4L1990.7 185.7L1990.8 183.1L1990.9 180.6L1991.0 177.9L1991.2 175.5L1991.3 172.9L1991.4 170.3L1991.5 167.9L1991.6 165.3L1991.7 162.8L1991.8 160.2L1991.9 157.8L1992.0 155.4L1992.1 152.6L1992.2 150.0L1992.3 147.5L1992.4 145.0L1992.5 142.4L1992.6 139.6L1992.7 137.2L1992.7 134.3L1992.8 131.5L1992.9 129.0L1993.0 126.2L1993.1 123.4L1993.1 120.9L1993.2 118.4L1993.3 115.5L1993.3 112.8L1993.4 110.0L1993.5 107.1L1993.5 104.5L1993.6 101.9L1993.7 99.0L1993.7 96.0L1993.8 93.5L1993.9 91.0L1993.9 88.2L1994.0 85.8L1994.0 83.2L1994.1 80.4L1994.1 77.8L1994.2 75.4L1994.2 72.8L1994.3 70.5L1994.3 68.5L1994.4 66.1L1994.4 63.7L1994.5 62.1L1994.5 60.2L1994.6 56.8L1994.6 53.3L1994.7 49.9L1994.7 46.5L1994.8 43.4L1994.8 40.1L1994.9 37.2L1994.9 34.6L1995.0 32.7L1995.0 31.1L1995.0 30.2L1995.0 29.9" stroke="#646464"/>
<path d="M1103.0 1276.7L1104.4 1276.8L1107.1 1277.4L1109.0 1277.9L1111.4 1278.1L1114.0 1278.6L1116.9 1279.0L1119.9 1279.3L1123.0 1279.8L1126.0 1280.4L1128.4 1280.6L1130.8 1281.1L1133.4 1281.5L1136.0 1281.7L1138.6 1282.2L1141.2 1282.6L1143.9 1283.0L1146.5 1283.5L1149.1 1284.0L1151.7 1284.0L1154.1 1284.4L1156.9 1284.5L1159.7 1284.7L1162.4 1284.8L1165.1 1284.6L1167.8 1284.3L1170.5 1284.4L1173.1 1284.4L1175.8 1284.0L1178.5 1283.4L1181.2 1283.1L1183.9 1282.7L1186.5 1282.2L1189.2 1281.8L1191.9 1281.3L1194.6 1280.7L1197.4 1280.0L1200.0 1279.6L1202.6 1279.2L1205.3 1279.0L1208.0 1278.7L1210.7 1278.5L1213.4 1278.2L1216.0 1277.9L1218.7 1277.8L1221.2 1277.6L1224.1 1277.4L1227.0 1277.1L1229.9 1276.5L1232.7 1276.3L1235.4 1275.9L1238.1 1275.4L1240.7 1274.7L1243.4 1273.8L1246.0 1273.1L1248.6 1272.3L1251.1 1271.3L1253.5 1270.2L1255.9 1268.8L1258.2 1266.9L1260.5 1265.2L1262.7 1263.3L1264.8 1261.9L1266.9 1259.8L1268.8 1257.8L1270.4 1255.6L1271.9 1253.4L1273.3 1251.2L1274.7 1248.7L1276.0 1245.9L1277.2 1243.4L1278.5 1240.7L1279.7 1238.4L1280.8 1235.9L1281.8 1233.4L1282.8 1231.4L1283.7 1228.9L1284.7 1226.3L1285.6 1224.1L1286.5 1221.9L1287.4 1219.3L1288.3 1216.5L1289.1 1214.3L1290.0 1211.7L1290.8 1209.0L1291.6 1206.3L1292.4 1204.0L1293.2 1201.2L1294.0 1198.5L1294.8 1195.9L1295.5 1193.5L1296.3 1191.2L1297.0 1188.4L1297.7 1185.8L1298.4 1182.9L1299.1 1180.5L1299.8 1177.7L1300.4 1175.1L1301.0 1172.5L1301.7 1169.9L1302.3 1167.3L1302.9 1164.6L1303.5 1162.2L1304.4 1159.4L1305.2 1156.8L1306.1 1154.2L1306.9 1151.1L1307.8 1148.2L1308.4 1146.2L1308.9 1144.0L1309.5 1141.5L1310.1 1138.9L1310.7 1136.0L1311.3 1133.2L1311.9 1130.4L1312.5 1127.8L1313.1 1125.1L1313.7 1122.7L1314.3 1120.0L1315.0 1117.1L1315.7 1114.2L1316.3 1111.4L1317.0 1108.9L1317.7 1106.4L1318.5 1103.9L1319.2 1101.0L1320.0 1098.7L1320.8 1096.4L1322.0 1093.3L1323.2 1090.7L1324.5 1088.1L1325.9 1085.5L1327.3 1083.5L1329.3 1080.7L1331.5 1078.4L1333.8 1076.8L1337.1 1076.1L1340.3 1076.5L1342.1 1078.0L1343.7 1079.7L1345.3 1081.9L1346.8 1084.2L1347.9 1086.3L1349.1 1088.4L1350.1 1090.8L1351.2 1093.4L1352.3 1096.6L1353.3 1099.5L1354.4 1102.3L1355.4 1104.8L1356.3 1107.1L1357.2 1109.6L1358.0 1112.1L1358.9 1114.4L1359.8 1116.6L1360.6 1119.0L1361.5 1121.7L1362.3 1124.3L1363.2 1126.6L1364.1 1128.8L1365.0 1131.3L1366.0 1133.7L1366.9 1136.2L1367.8 1138.8L1368.8 1141.2L1369.7 1143.3L1370.7 1145.8L1371.7 1148.0L1372.8 1149.9L1374.1 1152.4L1375.4 1155.1L1376.8 1157.5L1378.2 1159.6L1379.7 1161.5L1381.4 1163.0L1383.9 1165.2L1386.6 1166.5L1389.4 1167.6L1392.2 1167.8L1395.0 1167.5L1397.8 1166.5L1400.5 1165.0L1403.1 1163.3L1404.8 1161.5L1406.4 1159.4L1407.9 1157.2L1409.4 1154.9L1410.9 1152.9L1412.4 1150.4L1413.9 1148.2L1415.5 1146.3L1417.0 1143.9L1418.5 1141.6L1420.1 1139.3L1421.6 1137.0L1423.2 1134.9L1424.7 1133.2L1426.9 1130.3L1429.0 1127.8L1431.2 1126.0L1433.4 1124.5L1435.9 1123.2L1438.4 1122.4L1440.9 1122.2L1443.4 1122.6L1446.0 1123.7L1448.5 1125.4L1450.3 1126.9L1452.2 1128.7L1454.0 1130.8L1455.8 1132.8L1457.6 1135.4L1459.3 1137.2L1460.8 1139.3L1462.3 1141.2L1463.7 1143.1L1465.1 1145.5L1466.5 1147.7L1468.0 1149.8L1469.2 1151.9L1470.5 1153.9L1471.7 1156.3L1473.0 1159.0L1474.3 1161.6L1475.6 1163.8L1476.9 1166.4L1478.3 1168.8L1479.6 1171.4L1481.0 1173.4L1482.3 1175.4L1483.6 1177.4L1485.0 1180.0L1486.4 1181.9L1487.7 1183.9L1489.1 1186.1L1490.5 1188.1L1491.9 1190.3L1493.3 1192.8L1494.7 1194.8L1496.1 1197.1L1497.5 1199.5L1498.9 1201.5L1500.2 1203.7L1501.6 1205.7L1503.0 1207.8L1504.4 1210.1L1505.7 1212.3L1507.1 1214.5L1508.5 1216.6L1509.9 1219.0L1511.3 1221.0L1512.8 1223.1L1514.3 1225.4L1515.8 1227.9L1517.3 1230.1L1518.8 1232.4L1520.3 1234.7L1521.8 1236.7L1523.3 1238.9L1524.9 1240.6L1526.4 1242.5L1528.2 1244.7L1530.0 1246.7L1531.9 1248.6L1533.7 1250.7L1535.5 1252.5L1537.4 1254.2L1539.4 1255.7L1541.4 1257.6L1543.4 1259.4L1545.4 1260.6L1547.5 1262.0L1549.6 1263.3L1551.7 1264.5L1553.8 1266.0L1556.1 1267.4L1558.4 1268.9L1560.7 1270.1L1563.0 1271.1L1565.3 1272.2L1567.7 1272.8L1570.4 1273.7L1573.2 1274.3L1576.0 1274.6L1578.8 1275.0L1581.5 1275.6L1584.4 1276.0L1587.3 1276.6L1590.1 1277.3L1593.0 1277.8L1595.7 1277.5L1598.6 1277.1L1601.4 1276.2L1604.2 1275.0L1606.9 1273.9L1609.3 1273.0L1611.8 1272.3L1614.1 1271.3L1616.3 1270.2L1618.4 1268.6L1620.5 1266.7L1622.4 1264.5L1624.2 1261.9L1625.9 1259.5L1627.6 1256.7L1628.7 1254.9L1629.9 1252.9L1630.9 1250.4L1632.0 1247.9L1633.0 1245.4L1634.0 1242.8L1634.9 1240.4L1635.9 1238.4L1636.8 1236.2L1637.8 1233.5L1638.7 1231.1L1639.6 1228.3L1640.5 1226.0L1641.3 1223.4L1642.1 1220.8L1643.0 1217.9L1643.8 1215.0L1644.6 1212.6L1645.4 1210.1L1646.2 1207.6L1647.0 1205.0L1647.7 1202.5L1648.5 1199.5L1649.2 1197.0L1650.0 1194.3L1650.7 1192.3L1651.6 1189.2L1652.5 1185.9L1653.4 1183.2L1654.3 1180.8L1655.3 1178.6L1656.7 1176.1L1658.2 1173.7L1659.9 1171.7L1662.6 1169.5L1665.7 1168.1L1668.0 1168.4L1670.6 1169.0L1673.3 1170.1L1676.0 1171.5L1678.3 1172.8L1680.6 1174.4L1682.9 1175.5L1685.2 1177.2L1687.6 1178.4L1689.8 1179.5L1692.2 1180.7L1694.5 1182.0L1696.9 1182.9L1699.2 1184.0L1701.4 1185.5L1703.8 1187.4L1706.1 1189.1L1708.3 1191.0L1710.6 1193.0L1712.9 1194.4L1715.2 1195.7L1717.5 1196.7L1719.9 1197.7L1722.2 1198.6L1724.5 1199.1L1727.7 1199.1L1730.8 1198.4L1733.7 1196.7L1735.7 1195.0L1737.6 1192.7L1739.3 1190.0L1741.1 1187.4L1742.9 1185.3L1744.7 1183.0L1746.4 1180.5L1748.2 1177.9L1750.1 1175.4L1752.1 1174.0L1755.0 1172.8L1758.2 1172.6L1761.4 1172.8L1764.2 1173.5L1767.2 1174.3L1770.1 1175.9L1772.9 1177.4L1775.6 1179.0L1778.3 1180.8L1780.9 1182.5L1783.3 1183.0L1785.4 1181.7L1787.4 1179.8L1789.4 1177.6L1791.3 1176.3L1794.3 1176.4L1797.1 1177.4L1798.7 1179.4L1800.0 1182.0L1801.3 1185.2L1802.9 1187.8L1805.0 1189.4L1807.4 1190.4L1809.8 1191.1L1812.0 1190.4L1814.3 1188.8L1816.6 1187.1L1819.0 1185.3L1821.2 1183.5L1823.4 1181.6L1825.7 1179.6L1828.0 1177.8L1830.5 1176.0L1833.1 1174.8L1835.9 1174.0L1838.8 1173.4L1841.6 1172.5L1844.4 1171.3L1846.7 1170.0L1849.0 1168.6L1851.2 1167.0L1853.5 1165.7L1855.8 1164.4L1858.2 1163.6L1860.8 1162.5L1863.6 1161.9L1866.5 1161.4L1869.3 1161.1L1872.0 1160.9L1874.4 1159.8L1877.0 1158.6L1879.4 1157.0L1881.5 1155.4L1883.6 1153.1L1884.9 1151.5L1886.2 1149.6L1887.3 1147.4L1888.4 1145.0L1889.5 1142.1L1890.6 1139.4L1891.7 1137.2L1892.8 1134.5L1893.8 1132.0L1894.9 1129.9L1895.9 1127.6L1897.0 1125.0L1898.0 1122.7L1899.0 1120.3L1900.0 1118.0L1901.0 1115.8L1902.0 1113.5L1903.2 1111.3L1904.4 1109.0L1905.5 1107.1L1906.7 1105.2L1907.9 1102.5L1909.0 1100.1L1909.9 1098.1L1910.7 1095.8L1911.5 1093.5L1912.4 1091.1L1913.2 1088.9L1914.1 1086.2L1914.9 1083.7L1915.7 1080.9L1916.5 1078.5L1917.4 1075.5L1918.2 1073.0L1918.8 1070.6L1919.4 1068.4L1920.1 1066.3L1920.7 1063.9L1921.3 1061.7L1921.9 1059.1L1922.6 1057.0L1923.2 1054.4L1923.8 1052.1L1924.4 1049.3L1925.0 1046.7L1925.6 1044.2L1926.2 1041.9L1926.8 1039.6L1927.4 1036.8L1928.0 1034.2L1928.6 1031.6L1929.1 1028.9L1929.7 1026.3L1930.3 1024.1L1930.8 1021.4L1931.4 1019.1L1931.9 1016.5L1932.5 1013.9L1933.0 1011.3L1933.5 1008.7L1934.0 1006.4L1934.6 1003.8L1935.1 1001.4L1935.6 998.9L1936.1 996.4L1936.5 993.6L1937.0 991.2L1937.5 988.4L1938.0 985.8L1938.4 983.5L1938.9 981.0L1939.3 978.5L1939.7 975.9L1940.1 973.5L1940.5 971.1L1940.8 968.8L1941.2 966.1L1941.6 963.3L1941.9 960.9L1942.3 958.4L1942.6 955.9L1943.0 953.4L1943.3 950.7L1943.7 948.1L1944.0 945.9L1944.4 943.3L1944.7 940.8L1945.0 938.3L1945.4 935.5L1945.7 932.8L1946.0 930.4L1946.3 927.7L1946.7 925.3L1947.0 923.1L1947.3 920.2L1947.6 918.0L1948.0 915.5L1948.3 913.2L1948.6 910.5L1948.9 907.9L1949.2 905.2L1949.5 902.9L1949.8 900.2L1950.1 897.6L1950.4 895.1L1950.7 892.9L1951.0 890.6L1951.3 888.1L1951.6 885.6L1951.9 882.9L1952.2 880.4L1952.5 878.1L1952.8 875.4L1953.1 872.7L1953.3 870.1L1953.6 867.6L1953.9 865.1L1954.2 862.6L1954.4 860.2L1954.7 857.9L1955.0 855.4L1955.3 852.8L1955.5 850.3L1955.8 847.6L1956.0 845.3L1956.3 842.5L1956.6 840.1L1956.8 837.8L1957.1 835.4L1957.3 832.5L1957.6 830.2L1957.8 827.7L1958.1 825.3L1958.3 822.5L1958.5 820.1L1958.8 817.8L1959.0 815.0L1959.2 812.8L1959.5 810.2L1959.7 807.6L1959.9 804.9L1960.1 802.5L1960.4 799.9L1960.6 797.3L1960.8 794.7L1961.0 792.3L1961.2 790.1L1961.4 787.6L1961.6 785.5L1961.8 782.8L1962.0 780.3L1962.1 778.0L1962.3 775.6L1962.5 772.8L1962.7 770.4L1962.9 767.8L1963.1 765.6L1963.3 763.1L1963.5 760.6L1963.7 757.8L1963.9 755.4L1964.1 752.9L1964.3 750.2L1964.5 747.7L1964.7 745.4L1964.9 742.8L1965.1 740.1L1965.3 737.7L1965.5 735.2L1965.7 732.8L1965.9 730.1L1966.1 727.8L1966.3 725.1L1966.5 722.7L1966.7 720.1L1966.9 717.8L1967.1 715.2L1967.4 712.4L1967.6 709.7L1967.8 707.1L1968.0 704.7L1968.2 702.0L1968.4 699.8L1968.6 697.3L1968.8 694.4L1968.9 691.6L1969.1 688.9L1969.3 686.5L1969.5 683.9L1969.7 681.5L1969.8 679.0L1970.0 676.8L1970.2 674.0L1970.3 671.7L1970.5 669.2L1970.6 666.8L1970.8 664.0L1970.9 661.3L1971.0 658.7L1971.2 656.3L1971.3 653.6L1971.4 650.8L1971.6 648.1L1971.7 645.9L1971.8 643.1L1971.9 640.6L1972.1 638.3L1972.2 635.6L1972.3 633.0L1972.4 630.5L1972.5 627.7L1972.6 625.2L1972.8 622.9L1972.9 620.3L1973.0 617.6L1973.1 615.3L1973.2 612.9L1973.4 610.3L1973.5 607.7L1973.6 604.9L1973.8 602.4L1973.9 600.0L1974.0 597.1L1974.1 594.6L1974.3 591.9L1974.4 589.3L1974.5 586.9L1974.7 584.2L1974.8 581.5L1974.9 579.1L1975.0 576.6L1975.2 574.1L1975.3 571.5L1975.4 568.9L1975.5 566.6L1975.7 564.0L1975.8 561.2L1975.9 559.0L1976.1 556.5L1976.2 554.0L1976.3 551.4L1976.5 548.9L1976.6 546.3L1976.7 543.4L1976.9 540.7L1977.0 538.0L1977.1 535.8L1977.3 533.0L1977.4 530.4L1977.6 528.2L1977.7 525.5L1977.8 523.0L1978.0 520.2L1978.1 517.5L1978.3 515.1L1978.4 512.7L1978.6 510.0L1978.7 507.7L1978.8 505.1L1979.0 502.6L1979.1 499.9L1979.3 497.1L1979.4 494.7L1979.6 492.3L1979.7 489.7L1979.9 487.0L1980.0 484.6L1980.2 481.8L1980.3 479.1L1980.5 476.6L1980.6 474.2L1980.8 471.7L1980.9 469.0L1981.0 466.5L1981.2 464.2L1981.4 461.3L1981.5 459.0L1981.7 456.4L1981.8 453.9L1982.0 451.0L1982.1 448.3L1982.3 445.6L1982.5 443.0L1982.6 440.6L1982.8 437.8L1983.0 435.2L1983.1 432.8L1983.3 430.2L1983.4 427.5L1983.6 424.7L1983.7 422.4L1983.9 420.0L1984.0 417.2L1984.2 414.6L1984.3 412.3L1984.5 409.7L1984.6 407.1L1984.7 404.8L1984.9 402.6L1985.0 399.9L1985.1 397.3L1985.3 394.5L1985.4 392.1L1985.5 389.4L1985.7 387.0L1985.8 384.5L1985.9 382.1L1986.0 379.9L1986.1 377.1L1986.2 375.0L1986.3 372.4L1986.4 370.1L1986.6 367.5L1986.7 365.0L1986.8 362.5L1986.9 360.1L1987.0 357.4L1987.1 355.0L1987.2 352.6L1987.3 350.0L1987.4 347.3L1987.5 345.1L1987.6 342.7L1987.7 340.4L1987.8 337.6L1987.9 335.2L1987.9 332.6L1988.0 330.3L1988.1 327.9L1988.2 325.0L1988.3 322.3L1988.4 319.6L1988.5 317.3L1988.6 314.7L1988.7 312.3L1988.7 309.4L1988.8 306.5L1988.9 303.8L1989.0 301.3L1989.1 298.7L1989.2 296.1L1989.3 293.7L1989.4 291.1L1989.4 288.3L1989.5 285.6L1989.6 282.9L1989.7 280.3L1989.8 277.7L1989.9 275.1L1990.0 272.7L1990.1 270.0L1990.1 267.5L1990.2 265.2L1990.3 262.7L1990.4 259.9L1990.5 257.2L1990.6 255.0L1990.7 252.2L1990.8 250.0L1990.8 247.3L1990.9 244.7L1991.0 241.9L1991.1 239.5L1991.2 236.8L1991.3 234.1L1991.4 231.5L1991.4 228.9L1991.5 226.4L1991.6 224.2L1991.7 221.9L1991.8 219.0L1991.8 216.4L1991.9 214.0L1992.0 211.2L1992.1 208.9L1992.2 206.5L1992.2 203.8L1992.3 201.2L1992.4 198.4L1992.4 195.9L1992.5 193.2L1992.6 190.9L1992.6 188.4L1992.7 185.9L1992.8 183.7L1992.9 181.1L1992.9 178.8L1993.0 176.3L1993.0 173.6L1993.1 170.8L1993.2 168.2L1993.2 165.5L1993.3 163.2L1993.4 160.9L1993.4 158.3L1993.5 155.6L1993.6 152.8L1993.6 150.1L1993.7 147.6L1993.7 144.9L1993.8 142.2L1993.9 139.5L1993.9 137.2L1994.0 134.4L1994.0 131.7L1994.1 129.0L1994.1 126.5L1994.2 123.9L1994.2 121.3L1994.3 118.5L1994.4 116.0L1994.4 113.1L1994.5 110.1L1994.5 107.5L1994.6 105.0L1994.6 102.1L1994.7 99.4L1994.7 96.6L1994.8 94.0L1994.8 91.4L1994.9 88.6L1994.9 85.9L1995.0 83.0L1995.0 80.4L1995.1 78.2L1995.1 75.9L1995.2 73.5L1995.2 71.1L1995.2 68.9L1995.3 66.5L1995.3 64.3L1995.4 62.2L1995.4 60.1L1995.5 57.2L1995.5 53.8L1995.6 50.5L1995.7 47.0L1995.7 43.7L1995.8 40.4L1995.8 37.7L1995.9 35.0L1995.9 33.1L1996.0 31.3L1996.0 30.5L1996.0 30.3" stroke="#008000"/>
<path d="M1103.0 1022.8L1104.4 1023.7L1107.1 1025.0L1109.0 1025.7L1111.2 1026.6L1113.7 1027.7L1116.3 1028.7L1119.0 1029.9L1121.6 1030.9L1124.0 1032.1L1126.5 1032.7L1129.0 1033.4L1131.5 1034.4L1134.1 1035.4L1136.6 1035.8L1139.0 1036.6L1141.6 1037.9L1144.0 1038.9L1146.5 1040.1L1148.9 1041.4L1151.5 1042.4L1154.1 1043.1L1156.8 1044.0L1159.6 1044.9L1162.4 1045.4L1165.3 1045.9L1168.2 1046.5L1171.0 1047.1L1173.6 1047.5L1176.4 1047.4L1179.0 1047.6L1181.5 1047.5L1184.0 1047.7L1186.6 1047.6L1189.1 1047.0L1191.6 1046.5L1194.1 1045.9L1196.7 1044.9L1199.6 1044.3L1201.8 1044.3L1204.2 1043.8L1206.7 1043.6L1209.3 1043.5L1212.0 1043.2L1214.8 1043.3L1217.5 1042.9L1220.3 1042.9L1223.0 1042.8L1225.6 1042.4L1228.2 1042.4L1230.8 1042.4L1233.5 1042.3L1236.1 1041.8L1238.8 1041.6L1241.4 1041.2L1244.0 1041.3L1246.6 1041.2L1249.1 1041.3L1251.5 1041.1L1254.5 1041.1L1257.4 1041.3L1260.4 1042.1L1263.2 1042.6L1265.9 1042.8L1268.5 1043.2L1271.0 1043.2L1274.0 1043.0L1276.7 1042.8L1279.3 1042.3L1281.8 1041.2L1284.2 1039.6L1286.4 1037.8L1288.5 1035.7L1290.5 1033.3L1291.9 1031.4L1293.3 1029.6L1294.6 1027.7L1295.8 1025.5L1297.0 1023.1L1298.2 1020.4L1299.2 1018.4L1300.1 1016.0L1300.9 1013.6L1301.6 1011.4L1302.3 1009.2L1302.9 1006.4L1303.5 1003.7L1304.0 1001.1L1304.6 998.9L1305.1 996.4L1305.6 993.7L1306.1 991.3L1306.5 988.7L1306.9 985.8L1307.3 983.0L1307.7 980.4L1308.1 978.2L1308.5 975.5L1308.9 973.2L1309.3 970.3L1309.7 967.6L1310.0 964.8L1310.4 962.4L1310.8 959.6L1311.1 957.4L1311.4 954.8L1311.8 951.7L1312.1 949.1L1312.4 946.7L1312.6 944.4L1312.9 942.0L1313.2 939.3L1313.4 936.9L1313.7 934.5L1313.9 931.7L1314.2 929.4L1314.4 926.9L1314.7 924.1L1314.9 921.4L1315.2 918.9L1315.4 916.5L1315.6 914.1L1315.9 911.4L1316.1 909.0L1316.4 906.5L1316.6 903.8L1316.9 901.4L1317.1 898.9L1317.3 896.6L1317.6 893.8L1317.8 891.1L1318.1 888.9L1318.3 886.7L1318.6 884.3L1318.9 881.8L1319.2 879.0L1319.5 876.2L1319.8 873.8L1320.1 871.2L1320.4 868.9L1320.7 866.5L1321.0 863.6L1321.3 861.0L1321.6 858.7L1321.9 855.8L1322.2 853.2L1322.4 850.5L1322.7 848.3L1322.9 846.0L1323.2 843.5L1323.4 841.1L1323.7 838.2L1323.9 835.8L1324.2 833.3L1324.5 830.6L1324.8 827.6L1325.1 824.6L1325.4 822.5L1325.6 820.1L1325.9 817.4L1326.2 814.7L1326.5 811.9L1326.8 809.5L1327.1 806.9L1327.4 804.1L1327.8 801.3L1328.1 799.0L1328.4 796.5L1328.8 793.5L1329.1 790.8L1329.4 788.6L1329.8 786.1L1330.1 783.9L1330.5 781.5L1330.9 778.6L1331.4 776.0L1331.8 773.1L1332.3 770.6L1332.8 767.9L1333.2 765.0L1333.7 762.7L1334.2 760.4L1334.8 757.7L1335.3 755.5L1335.9 753.3L1336.7 750.3L1337.5 747.7L1338.3 745.2L1339.2 742.9L1340.2 741.0L1341.4 739.4L1344.1 738.0L1346.8 738.4L1348.2 739.5L1349.3 741.9L1350.3 744.7L1351.3 748.1L1352.2 751.2L1352.8 753.3L1353.4 755.5L1353.9 757.7L1354.4 760.2L1354.9 763.0L1355.3 765.7L1355.8 768.6L1356.2 771.3L1356.7 773.8L1357.1 776.5L1357.6 779.2L1358.0 781.3L1358.4 784.0L1358.8 786.5L1359.2 788.8L1359.6 791.3L1360.0 793.8L1360.4 796.4L1360.8 799.1L1361.2 801.5L1361.6 803.9L1361.9 806.4L1362.3 808.8L1362.7 811.1L1363.0 813.9L1363.3 816.5L1363.6 818.7L1363.9 821.3L1364.2 823.8L1364.5 826.2L1364.8 829.1L1365.0 831.7L1365.3 834.2L1365.6 837.0L1365.8 839.7L1366.1 842.0L1366.4 844.5L1366.7 846.8L1367.0 849.1L1367.3 851.4L1367.7 854.1L1368.1 856.8L1368.6 859.4L1369.0 862.4L1369.4 864.9L1369.9 867.4L1370.3 870.0L1370.8 872.7L1371.3 875.0L1371.7 877.7L1372.2 880.3L1372.6 882.7L1373.1 885.8L1373.5 888.3L1374.0 891.3L1374.4 893.6L1374.9 896.0L1375.4 898.8L1376.0 901.2L1376.6 904.0L1377.2 906.5L1377.7 909.2L1378.4 911.6L1379.0 914.1L1379.7 916.3L1380.5 918.5L1381.4 920.9L1382.4 923.1L1383.5 925.5L1384.7 927.6L1385.9 929.9L1387.2 931.8L1388.6 933.9L1390.1 935.9L1391.7 938.0L1393.5 940.3L1395.3 942.4L1397.3 944.1L1399.2 945.9L1401.2 947.7L1403.1 949.5L1405.2 951.1L1407.3 952.5L1409.4 954.2L1411.5 955.7L1413.7 957.1L1416.0 958.5L1418.2 960.2L1420.5 961.4L1422.9 962.7L1425.3 964.1L1427.7 965.4L1430.0 966.9L1432.3 968.3L1434.4 969.7L1436.5 971.4L1438.5 972.7L1440.5 974.5L1442.5 976.4L1444.5 977.7L1446.4 979.4L1448.3 981.4L1450.2 983.0L1452.1 985.1L1453.9 986.9L1455.7 988.5L1457.5 990.2L1459.3 992.1L1461.1 994.0L1462.9 996.0L1464.7 997.9L1466.5 999.9L1468.3 1001.6L1470.2 1003.2L1472.3 1004.7L1474.4 1006.7L1476.5 1008.3L1478.7 1010.2L1481.0 1011.4L1483.2 1012.7L1485.7 1014.3L1488.4 1015.5L1491.0 1016.3L1493.6 1017.4L1496.1 1018.5L1498.8 1019.8L1501.5 1021.1L1504.1 1022.0L1507.0 1022.7L1509.4 1023.1L1511.9 1023.2L1514.4 1022.8L1517.0 1022.4L1519.6 1022.2L1522.1 1021.9L1524.8 1021.7L1527.4 1021.3L1530.0 1021.4L1532.5 1020.9L1535.1 1020.7L1537.7 1020.1L1540.4 1019.0L1543.0 1018.0L1545.6 1017.4L1548.1 1016.6L1550.7 1016.2L1553.1 1015.9L1555.6 1015.5L1558.4 1015.4L1560.8 1015.3L1563.3 1015.3L1566.0 1015.1L1568.8 1015.5L1571.6 1015.8L1574.3 1015.8L1576.9 1016.2L1579.7 1016.7L1582.4 1017.8L1585.0 1018.7L1587.7 1019.6L1590.3 1020.2L1593.0 1020.8L1595.7 1020.7L1598.5 1020.2L1601.2 1019.8L1603.9 1019.4L1606.6 1018.4L1609.2 1017.8L1611.7 1016.9L1614.1 1016.0L1616.5 1014.7L1618.8 1013.3L1621.0 1012.1L1623.0 1010.4L1624.9 1008.7L1626.6 1006.3L1628.1 1004.4L1629.5 1001.9L1630.9 999.6L1632.2 997.0L1633.3 994.8L1634.3 992.4L1635.2 989.4L1636.1 986.9L1636.9 984.0L1637.7 981.6L1638.5 979.0L1639.2 976.2L1639.8 973.7L1640.4 971.0L1640.9 968.4L1641.5 965.8L1641.9 963.2L1642.4 960.8L1642.9 958.4L1643.3 955.8L1643.8 952.8L1644.2 950.6L1644.7 948.0L1645.1 945.5L1645.5 942.9L1645.9 940.3L1646.4 938.1L1646.8 935.6L1647.2 933.1L1647.6 930.2L1648.0 927.9L1648.4 925.3L1648.8 923.1L1649.1 920.6L1649.5 918.3L1649.8 915.6L1650.2 913.2L1650.5 910.9L1650.9 908.2L1651.2 905.6L1651.6 903.2L1651.9 900.8L1652.3 898.3L1652.6 895.5L1653.0 892.7L1653.4 890.3L1653.7 887.8L1654.0 885.5L1654.4 883.0L1654.7 880.5L1655.1 877.8L1655.4 875.1L1655.8 872.6L1656.1 870.2L1656.5 867.8L1656.9 865.6L1657.2 863.2L1657.6 860.9L1658.0 858.1L1658.5 855.5L1658.9 852.7L1659.4 850.3L1659.8 847.8L1660.3 845.1L1660.8 842.6L1661.2 840.1L1661.7 837.8L1662.2 835.2L1662.7 832.6L1663.2 829.7L1663.8 827.3L1664.3 824.5L1664.8 821.9L1665.4 819.5L1666.1 817.1L1666.8 814.9L1667.6 812.1L1668.5 809.5L1669.4 807.3L1670.3 805.2L1671.4 803.2L1672.5 801.1L1673.7 798.7L1675.1 796.5L1676.8 794.1L1678.5 791.9L1680.2 789.6L1682.0 787.3L1683.7 784.9L1685.3 782.5L1686.7 780.0L1688.1 777.9L1689.5 775.8L1690.8 773.0L1692.1 770.8L1693.3 768.7L1694.5 766.3L1695.8 763.7L1697.0 761.1L1698.2 758.2L1699.3 755.1L1700.4 752.7L1701.4 749.9L1702.5 747.1L1703.5 744.2L1704.6 741.9L1706.0 739.0L1707.3 737.0L1708.9 734.9L1710.7 732.4L1712.5 730.2L1714.3 728.1L1716.0 725.6L1717.6 723.0L1718.8 720.5L1719.9 718.3L1721.0 716.3L1722.1 714.1L1723.1 711.7L1724.1 709.1L1725.0 706.8L1725.9 704.4L1726.8 701.9L1727.6 699.4L1728.4 697.2L1729.1 694.5L1729.8 691.9L1730.4 689.6L1731.1 687.1L1731.7 684.5L1732.3 681.9L1733.0 679.4L1733.7 677.0L1734.4 674.0L1735.2 671.5L1735.9 669.0L1736.6 666.1L1737.4 663.6L1738.2 661.1L1738.9 658.7L1739.7 656.4L1740.6 654.1L1741.6 651.3L1742.6 648.4L1743.6 645.9L1744.7 643.5L1746.0 641.6L1747.5 639.9L1750.4 638.8L1753.7 638.0L1756.8 638.8L1758.8 639.8L1760.6 641.9L1762.3 644.4L1764.1 646.7L1766.0 648.7L1768.0 651.2L1770.1 653.5L1772.3 655.6L1774.4 657.2L1776.4 658.1L1778.5 657.5L1780.5 656.1L1782.5 653.6L1784.4 651.5L1786.1 649.0L1787.8 645.7L1789.4 642.8L1791.0 640.6L1792.5 639.5L1794.0 640.9L1795.4 643.2L1796.8 646.1L1798.3 649.2L1800.0 652.3L1801.7 655.8L1803.4 658.2L1805.2 659.5L1806.9 658.7L1808.7 656.9L1810.5 654.3L1812.1 651.3L1813.0 649.6L1813.9 646.9L1814.7 644.3L1815.4 641.9L1816.1 639.1L1816.8 636.3L1817.5 633.5L1818.2 630.8L1819.0 628.1L1819.9 625.5L1820.8 622.4L1821.7 619.2L1822.6 616.4L1823.6 613.8L1824.7 612.2L1825.9 611.1L1828.8 610.6L1831.7 611.8L1833.0 613.4L1834.1 615.7L1835.2 618.0L1836.2 620.9L1837.3 623.8L1838.5 626.1L1839.8 628.3L1841.9 631.0L1844.1 633.3L1846.5 635.4L1849.0 636.2L1851.2 636.3L1853.6 635.3L1856.0 633.8L1858.3 632.2L1860.5 630.6L1862.6 628.9L1864.5 626.6L1866.3 624.2L1868.0 621.5L1869.7 618.9L1870.9 617.0L1872.1 614.6L1873.3 612.2L1874.4 609.8L1875.5 607.2L1876.7 604.5L1877.8 602.4L1879.0 600.5L1881.2 597.2L1883.5 594.8L1885.9 593.4L1888.2 594.0L1890.5 596.0L1892.8 598.5L1894.2 600.0L1895.5 602.3L1896.7 604.6L1898.0 607.5L1899.3 610.3L1900.6 612.5L1902.0 614.3L1904.0 616.7L1906.0 619.1L1908.1 621.1L1910.1 621.3L1912.2 620.6L1914.4 618.6L1916.4 615.5L1918.2 612.0L1919.2 610.0L1920.1 608.0L1920.9 605.4L1921.7 603.0L1922.4 600.4L1923.1 597.4L1923.8 594.8L1924.4 592.1L1925.1 589.0L1925.6 586.5L1926.1 584.1L1926.6 581.5L1927.0 579.0L1927.5 576.5L1927.9 573.7L1928.3 571.2L1928.7 568.7L1929.1 565.8L1929.6 563.3L1930.0 560.3L1930.5 557.9L1931.0 555.4L1931.5 552.4L1932.0 549.8L1932.6 547.4L1933.2 544.9L1933.8 542.5L1934.4 539.7L1935.1 537.4L1935.7 534.9L1936.4 532.4L1937.0 530.0L1937.7 527.6L1938.4 525.2L1939.1 522.7L1939.8 520.2L1940.5 517.5L1941.2 515.0L1942.0 512.6L1942.9 510.1L1943.7 507.3L1944.6 504.9L1945.5 502.7L1946.3 500.4L1947.2 497.7L1948.0 495.5L1948.9 492.8L1949.6 490.2L1950.4 487.6L1951.1 485.1L1951.7 482.6L1952.4 480.1L1953.0 477.7L1953.6 475.0L1954.1 472.5L1954.7 470.2L1955.3 467.7L1955.8 465.3L1956.3 462.4L1956.9 459.9L1957.4 457.5L1958.0 454.8L1958.6 452.0L1959.2 449.2L1959.8 446.6L1960.4 444.3L1960.9 442.0L1961.5 439.4L1962.0 436.7L1962.5 434.0L1963.0 431.4L1963.4 429.1L1963.8 426.4L1964.2 423.9L1964.6 421.1L1965.0 418.3L1965.4 415.7L1965.8 413.2L1966.2 410.2L1966.6 407.4L1966.9 405.3L1967.2 402.9L1967.6 400.3L1967.9 398.1L1968.2 395.3L1968.5 393.1L1968.9 390.7L1969.2 388.0L1969.5 385.3L1969.9 382.6L1970.2 379.8L1970.5 377.1L1970.9 374.4L1971.2 371.9L1971.5 369.3L1971.8 366.7L1972.1 364.1L1972.4 361.7L1972.7 358.7L1973.0 356.2L1973.2 353.5L1973.5 350.7L1973.8 348.4L1974.0 345.7L1974.3 343.4L1974.5 340.9L1974.8 338.2L1975.0 335.9L1975.3 333.3L1975.5 330.6L1975.8 328.0L1976.0 325.4L1976.2 322.8L1976.5 320.4L1976.7 317.7L1977.0 315.1L1977.3 312.5L1977.5 309.9L1977.8 307.6L1978.0 305.1L1978.3 302.8L1978.6 300.3L1978.8 297.9L1979.1 295.2L1979.3 292.3L1979.6 289.7L1979.8 287.3L1980.1 284.7L1980.4 282.0L1980.6 279.6L1980.9 277.0L1981.1 274.3L1981.4 271.9L1981.6 268.9L1981.8 266.7L1982.0 264.2L1982.2 261.7L1982.4 259.4L1982.6 257.0L1982.8 254.5L1983.0 251.9L1983.2 249.3L1983.4 247.0L1983.6 244.3L1983.8 241.6L1984.0 239.2L1984.1 237.0L1984.3 234.5L1984.5 231.9L1984.7 229.0L1984.9 226.5L1985.1 223.8L1985.3 221.6L1985.5 219.0L1985.8 216.5L1986.0 214.0L1986.2 211.6L1986.4 209.1L1986.7 206.3L1986.9 203.7L1987.1 201.0L1987.4 198.5L1987.6 196.2L1987.9 193.6L1988.1 191.0L1988.4 188.7L1988.6 186.2L1988.9 183.7L1989.1 181.0L1989.4 178.6L1989.6 175.8L1989.9 173.2L1990.2 171.0L1990.4 168.3L1990.7 165.8L1990.9 163.3L1991.2 160.9L1991.5 158.6L1991.7 156.4L1992.0 154.1L1992.3 151.1L1992.6 148.3L1992.9 145.8L1993.2 143.2L1993.5 140.5L1993.8 137.5L1994.1 134.7L1994.4 132.0L1994.7 129.6L1995.0 127.1L1995.3 124.4L1995.7 122.2L1996.0 119.8L1996.3 117.4L1996.7 114.7L1997.0 112.3L1997.3 110.2L1997.7 107.7L1998.1 104.7L1998.6 101.8L1999.1 99.5L1999.5 97.0L2000.0 94.6L2000.5 91.8L2001.0 89.4L2001.5 86.8L2002.0 84.4L2002.5 82.0L2003.0 79.9L2003.5 77.6L2004.2 75.0L2004.8 72.5L2005.5 70.0L2006.1 67.6L2006.8 65.1L2007.4 62.8L2008.1 60.5L2008.8 57.5L2009.6 54.4L2010.4 51.0L2011.2 47.8L2011.9 44.7L2012.5 42.5L2012.9 40.8L2013.0 40.3" stroke="#ff0000"/>
<path d="M1103.0 894.3L1104.4 894.3L1107.1 894.5L1109.1 894.5L1111.5 894.4L1114.3 894.2L1117.2 893.9L1120.3 894.2L1123.2 894.2L1126.0 893.9L1128.9 893.8L1131.8 893.9L1134.6 893.9L1137.4 893.5L1140.3 893.1L1143.3 892.6L1145.9 892.3L1148.5 891.9L1151.2 891.3L1154.0 890.3L1156.7 889.4L1159.4 888.5L1162.2 887.7L1164.9 887.2L1167.6 886.5L1170.4 885.9L1173.1 885.4L1175.9 884.9L1178.6 884.7L1181.4 884.0L1184.0 883.6L1186.6 882.9L1189.2 882.3L1191.8 881.7L1194.3 881.4L1196.8 881.0L1199.2 880.4L1201.6 879.8L1203.9 879.0L1206.7 877.6L1209.3 876.1L1211.8 874.7L1214.3 873.4L1216.9 872.2L1219.5 871.2L1222.2 870.1L1224.9 869.2L1227.5 867.9L1229.9 866.3L1231.9 864.8L1233.7 862.8L1235.4 861.0L1237.2 859.1L1238.9 857.0L1240.7 855.1L1242.9 853.1L1245.1 851.4L1247.3 849.7L1249.5 847.9L1251.5 846.0L1253.4 844.2L1255.2 842.3L1257.0 840.5L1258.6 838.6L1260.2 836.0L1261.6 833.9L1263.0 831.9L1264.2 829.8L1265.5 827.4L1266.7 824.6L1267.6 822.5L1268.5 820.4L1269.4 817.9L1270.2 815.5L1271.1 812.9L1271.9 810.2L1272.8 807.4L1273.6 804.7L1274.5 801.9L1275.3 799.2L1276.1 796.5L1276.9 793.8L1277.7 791.1L1278.6 788.7L1279.4 786.3L1280.2 783.7L1281.0 780.9L1281.8 778.1L1282.5 775.4L1283.3 772.7L1284.0 770.2L1284.7 767.4L1285.4 765.0L1286.1 762.4L1286.7 760.2L1287.4 757.5L1288.0 754.7L1288.6 752.5L1289.2 750.1L1289.9 747.4L1290.5 744.7L1291.1 742.1L1291.7 739.5L1292.2 736.8L1292.8 734.0L1293.3 731.8L1293.9 729.4L1294.4 726.9L1295.0 724.0L1295.7 721.5L1296.3 718.8L1297.0 716.5L1297.8 713.8L1298.6 711.5L1299.4 708.9L1300.2 706.9L1301.1 704.7L1302.0 702.1L1302.9 700.0L1303.8 697.7L1304.7 695.0L1305.6 692.9L1306.5 690.6L1307.5 687.9L1308.4 685.5L1309.4 683.0L1310.3 680.4L1311.3 678.1L1312.3 675.5L1313.3 673.4L1314.3 671.1L1315.3 668.6L1316.4 666.2L1317.4 663.6L1318.5 661.3L1319.6 659.1L1320.7 656.9L1321.8 654.7L1322.9 652.2L1324.0 649.7L1325.1 647.5L1326.2 645.0L1327.3 642.8L1328.4 640.2L1329.5 638.0L1330.6 635.4L1331.7 633.0L1332.8 630.5L1333.9 628.1L1334.9 625.8L1335.9 623.6L1336.9 620.7L1337.8 618.2L1338.7 615.5L1339.6 613.1L1340.5 610.5L1341.4 608.1L1342.2 605.5L1343.0 602.8L1343.8 600.0L1344.6 597.6L1345.4 595.0L1346.1 592.4L1346.8 589.8L1347.5 587.8L1348.2 585.4L1348.9 582.8L1349.6 580.4L1350.3 577.9L1351.1 575.3L1351.9 573.3L1352.7 571.0L1353.6 568.7L1354.5 566.3L1355.4 563.9L1356.3 561.6L1357.2 559.3L1358.1 556.7L1359.0 554.3L1359.8 552.1L1360.6 549.8L1361.3 547.3L1362.1 544.7L1362.8 542.1L1363.5 539.4L1364.3 536.8L1365.0 534.1L1365.7 531.5L1366.4 528.9L1367.1 526.9L1367.7 524.7L1368.4 521.9L1369.1 519.3L1369.8 516.6L1370.5 514.1L1371.1 511.8L1371.8 509.3L1372.4 506.9L1373.1 504.3L1373.7 501.9L1374.3 499.3L1374.9 496.7L1375.5 494.3L1376.0 491.7L1376.5 489.3L1377.0 486.9L1377.5 484.3L1378.0 481.9L1378.4 479.0L1378.9 476.4L1379.4 473.8L1380.0 471.2L1380.5 468.2L1380.9 465.7L1381.4 463.4L1381.9 461.1L1382.3 458.5L1382.8 456.0L1383.3 453.2L1383.8 450.5L1384.3 447.9L1384.9 445.7L1385.4 442.8L1385.9 440.2L1386.4 437.8L1386.9 435.4L1387.4 432.7L1387.8 430.1L1388.3 427.7L1388.8 425.0L1389.2 422.2L1389.6 419.6L1390.1 417.3L1390.5 414.6L1390.9 412.1L1391.3 409.4L1391.6 407.1L1392.0 404.8L1392.4 402.4L1392.8 399.5L1393.1 397.2L1393.5 394.8L1393.8 392.0L1394.2 389.3L1394.6 386.6L1394.9 384.1L1395.3 381.8L1395.7 379.0L1396.1 376.6L1396.5 374.2L1396.8 371.4L1397.2 368.7L1397.6 366.4L1398.0 364.0L1398.4 361.2L1398.7 358.9L1399.1 356.3L1399.5 353.4L1399.9 351.1L1400.3 348.3L1400.6 345.8L1401.0 343.5L1401.4 340.7L1401.8 338.4L1402.2 335.8L1402.6 333.3L1403.0 330.5L1403.5 327.9L1403.9 325.2L1404.3 322.7L1404.8 320.0L1405.2 317.5L1405.6 314.6L1406.1 312.3L1406.5 309.6L1406.9 307.2L1407.4 304.6L1407.8 302.1L1408.3 299.5L1408.7 296.7L1409.2 294.4L1409.6 291.7L1410.1 289.2L1410.5 286.4L1411.0 283.6L1411.4 280.7L1411.9 278.2L1412.3 275.6L1412.8 273.0L1413.2 270.1L1413.7 267.4L1414.2 264.9L1414.7 262.2L1415.2 259.7L1415.8 257.0L1416.4 254.0L1417.0 251.2L1417.6 248.6L1418.2 246.0L1418.8 243.3L1419.5 241.0L1420.2 238.3L1420.9 235.8L1421.7 233.7L1422.9 231.4L1424.2 228.7L1425.5 226.7L1426.9 224.7L1428.2 223.4L1430.3 221.7L1432.3 221.0L1433.8 222.5L1435.1 225.1L1436.3 228.0L1437.0 229.7L1437.8 231.8L1438.5 233.9L1439.2 236.5L1439.8 239.0L1440.5 241.7L1441.1 244.4L1441.7 247.4L1442.2 249.5L1442.6 251.7L1443.1 254.2L1443.5 256.4L1443.9 258.7L1444.3 261.2L1444.7 263.6L1445.1 266.6L1445.5 269.2L1445.9 272.0L1446.3 274.3L1446.7 276.9L1447.1 279.7L1447.5 281.8L1447.9 284.5L1448.3 287.2L1448.7 289.7L1449.1 291.8L1449.4 294.2L1449.8 296.7L1450.2 299.2L1450.6 301.8L1451.0 304.1L1451.4 306.5L1451.7 309.3L1452.1 311.8L1452.5 314.4L1452.9 316.8L1453.2 319.4L1453.6 321.7L1454.0 324.1L1454.3 326.7L1454.7 329.4L1455.0 331.9L1455.4 334.8L1455.8 337.3L1456.1 340.2L1456.5 342.9L1456.8 345.3L1457.2 347.8L1457.5 350.6L1457.9 353.4L1458.3 355.9L1458.6 358.3L1459.0 360.8L1459.3 363.6L1459.7 366.0L1460.1 368.5L1460.4 371.3L1460.8 374.1L1461.1 376.5L1461.5 379.1L1461.8 381.5L1462.2 384.1L1462.6 386.6L1462.9 389.3L1463.3 391.9L1463.7 394.7L1464.1 397.6L1464.4 400.1L1464.8 402.6L1465.2 405.0L1465.6 407.7L1465.9 410.5L1466.3 413.2L1466.7 415.8L1467.1 418.3L1467.5 421.0L1467.9 423.7L1468.3 426.2L1468.7 428.8L1469.1 431.6L1469.5 433.9L1470.0 436.4L1470.4 439.1L1470.8 441.8L1471.3 444.3L1471.7 447.2L1472.2 449.6L1472.6 452.2L1473.1 455.2L1473.5 457.5L1473.9 459.9L1474.4 462.7L1474.8 465.5L1475.2 467.8L1475.6 470.3L1476.0 472.8L1476.4 475.6L1476.8 478.1L1477.2 481.0L1477.6 483.5L1478.0 486.2L1478.4 489.0L1478.8 491.4L1479.2 493.8L1479.6 496.3L1479.9 499.1L1480.3 502.0L1480.7 504.7L1481.1 507.1L1481.4 509.7L1481.8 512.3L1482.1 514.7L1482.5 517.6L1482.8 520.3L1483.2 522.9L1483.5 525.2L1483.9 528.0L1484.2 530.4L1484.5 533.0L1484.9 535.6L1485.2 537.9L1485.5 540.1L1485.8 542.5L1486.1 544.7L1486.4 547.9L1486.7 550.8L1487.0 553.4L1487.2 555.8L1487.4 558.2L1487.6 561.0L1487.9 563.7L1488.3 566.4L1488.7 568.7L1489.3 571.3L1489.9 573.8L1490.5 576.4L1491.2 578.6L1492.0 581.2L1492.8 583.9L1493.6 586.3L1494.5 589.0L1495.4 591.2L1496.3 593.9L1497.2 596.6L1498.1 599.1L1498.9 601.7L1499.7 604.0L1500.5 606.3L1501.3 609.0L1502.1 611.5L1502.9 613.9L1503.7 616.5L1504.5 619.0L1505.2 621.7L1506.0 624.4L1506.8 627.0L1507.5 629.5L1508.3 631.8L1509.1 634.5L1509.9 636.8L1510.8 639.5L1511.6 642.0L1512.4 644.8L1513.3 647.6L1514.1 650.6L1515.0 653.2L1515.9 655.5L1516.8 657.8L1517.8 660.1L1519.1 663.2L1520.4 665.9L1521.8 668.3L1523.2 670.8L1524.7 673.2L1526.4 675.5L1528.4 677.4L1530.5 679.5L1532.7 681.0L1535.0 682.7L1537.3 684.0L1540.0 685.7L1542.9 687.3L1545.6 688.3L1548.1 689.1L1550.9 689.9L1553.8 690.3L1556.2 690.2L1558.9 689.8L1561.8 688.8L1564.8 688.0L1567.7 687.5L1570.5 686.7L1573.4 686.4L1576.3 686.1L1579.0 685.8L1581.5 684.8L1584.0 683.2L1586.2 680.8L1588.4 678.3L1590.7 676.3L1593.7 675.6L1596.9 675.1L1600.0 674.3L1601.7 673.2L1603.4 671.3L1605.1 669.5L1606.7 667.6L1608.3 665.2L1609.9 662.7L1611.5 660.5L1613.0 658.7L1614.5 656.1L1616.0 653.6L1617.5 651.4L1618.9 648.9L1620.3 646.6L1621.7 644.4L1623.0 642.3L1624.1 640.2L1625.3 637.8L1626.3 635.7L1627.4 633.0L1628.4 630.8L1629.4 628.4L1630.3 625.9L1631.3 623.7L1632.2 621.5L1633.2 618.9L1634.1 616.6L1635.0 614.1L1635.9 611.4L1636.8 608.6L1637.6 605.9L1638.4 603.3L1639.2 600.5L1639.8 598.2L1640.3 596.0L1640.8 593.7L1641.3 591.2L1641.8 588.8L1642.3 586.2L1642.7 583.8L1643.2 581.3L1643.7 578.4L1644.1 575.7L1644.6 573.2L1645.1 570.9L1645.6 568.7L1646.1 566.2L1646.7 563.3L1647.3 560.6L1648.0 558.0L1648.6 555.6L1649.3 553.2L1650.0 550.7L1650.6 548.2L1651.2 546.0L1651.9 543.7L1652.4 541.2L1653.0 538.7L1653.6 535.9L1654.1 533.2L1654.7 530.7L1655.2 528.2L1655.6 525.8L1656.1 523.2L1656.6 520.7L1657.1 518.2L1657.6 515.7L1658.1 513.2L1658.6 510.3L1659.1 507.4L1659.6 505.1L1660.1 502.4L1660.6 500.1L1661.2 497.4L1661.7 494.9L1662.2 492.1L1662.7 489.6L1663.3 487.1L1663.8 484.7L1664.4 481.7L1664.9 479.0L1665.5 476.8L1666.1 474.1L1666.8 471.4L1667.5 468.9L1668.3 466.0L1669.1 463.3L1669.9 461.0L1670.8 458.5L1671.7 455.7L1672.7 453.4L1673.7 451.1L1674.8 448.4L1676.0 445.7L1677.3 443.4L1678.6 441.0L1679.9 438.6L1681.4 436.3L1683.0 434.6L1685.1 432.4L1687.4 430.6L1689.8 428.8L1692.2 427.7L1694.5 427.3L1696.8 427.3L1699.1 428.2L1701.4 429.6L1703.7 431.3L1705.9 433.3L1708.2 435.3L1710.5 437.3L1712.8 439.0L1715.2 439.6L1717.4 439.5L1719.7 438.0L1722.0 436.2L1724.4 433.8L1726.7 431.9L1729.1 430.1L1731.4 429.0L1733.6 428.0L1735.9 426.9L1738.3 425.6L1740.6 424.6L1742.9 423.3L1744.9 421.8L1747.0 420.2L1749.0 418.3L1751.1 416.3L1753.1 414.7L1755.1 413.2L1757.1 412.0L1759.1 411.0L1762.0 411.5L1764.9 412.7L1767.7 414.1L1770.6 415.4L1773.5 415.7L1776.4 416.4L1779.3 416.7L1782.1 416.4L1784.4 415.7L1786.7 414.5L1788.9 412.9L1791.2 411.1L1793.6 410.0L1796.3 409.2L1799.1 408.8L1802.0 408.5L1804.9 407.8L1807.5 407.3L1810.0 406.0L1812.4 404.2L1814.7 402.3L1816.9 400.5L1819.0 398.2L1821.0 395.8L1822.9 393.5L1824.7 391.1L1826.4 388.8L1828.2 386.6L1830.5 383.5L1832.7 380.8L1835.2 379.6L1837.4 379.6L1839.7 380.9L1842.1 382.6L1844.4 384.3L1846.1 386.0L1847.8 388.2L1849.4 390.5L1851.0 393.1L1852.7 395.4L1854.3 398.1L1855.9 400.8L1857.5 403.0L1859.1 405.5L1860.7 408.0L1862.3 410.3L1863.9 412.7L1865.6 414.6L1867.4 416.5L1869.6 418.4L1871.9 420.2L1874.2 421.9L1876.6 423.1L1879.0 423.4L1881.8 423.3L1884.7 422.9L1887.6 421.9L1890.5 421.2L1893.4 419.9L1896.3 418.9L1899.1 417.8L1902.0 416.6L1904.4 415.4L1906.8 414.3L1909.2 413.6L1911.5 412.2L1913.6 410.6L1915.2 409.0L1916.7 406.8L1918.0 404.4L1919.2 401.8L1920.4 399.4L1921.6 396.4L1922.8 393.7L1923.7 391.7L1924.6 389.0L1925.5 386.8L1926.3 384.0L1927.1 381.4L1928.0 378.8L1928.8 376.4L1929.6 373.9L1930.4 371.0L1931.2 368.4L1932.0 366.0L1932.8 363.5L1933.7 361.1L1934.6 358.5L1935.5 356.1L1936.3 353.7L1937.2 351.3L1938.0 348.7L1938.9 346.1L1939.7 343.5L1940.5 340.8L1941.2 338.3L1941.8 336.0L1942.4 333.6L1943.0 331.4L1943.5 328.9L1944.0 326.5L1944.6 323.6L1945.1 320.9L1945.6 318.7L1946.0 316.2L1946.5 313.7L1947.0 311.1L1947.5 308.8L1947.9 306.2L1948.4 303.7L1948.9 301.2L1949.3 298.5L1949.8 295.9L1950.2 293.8L1950.7 291.2L1951.1 288.7L1951.5 286.5L1952.0 283.8L1952.4 281.4L1952.8 278.7L1953.2 276.2L1953.6 274.0L1954.0 271.5L1954.4 269.0L1954.8 266.6L1955.2 263.8L1955.7 261.4L1956.1 258.7L1956.5 256.0L1956.8 253.3L1957.2 250.7L1957.6 248.3L1958.0 245.4L1958.4 242.9L1958.8 239.9L1959.1 237.2L1959.5 234.6L1959.8 232.1L1960.1 230.0L1960.4 227.4L1960.7 224.7L1960.9 222.0L1961.2 219.8L1961.5 217.4L1961.8 214.9L1962.0 212.4L1962.3 209.5L1962.6 206.9L1962.9 204.4L1963.1 201.7L1963.4 199.3L1963.7 196.8L1964.0 193.8L1964.3 191.0L1964.6 188.3L1964.9 185.7L1965.2 183.3L1965.5 181.1L1965.8 178.4L1966.1 176.1L1966.4 173.5L1966.7 170.8L1967.0 168.2L1967.4 165.6L1967.7 163.1L1968.0 160.8L1968.4 158.1L1968.7 155.5L1969.0 152.9L1969.3 150.4L1969.6 147.9L1969.9 145.4L1970.2 143.1L1970.5 140.5L1970.8 138.1L1971.0 135.8L1971.3 133.1L1971.5 130.5L1971.7 128.1L1972.0 125.1L1972.2 122.5L1972.4 120.0L1972.6 117.5L1972.8 114.6L1972.9 111.8L1973.1 108.8L1973.3 106.5L1973.4 103.8L1973.6 101.1L1973.7 98.8L1973.9 96.1L1974.0 93.5L1974.2 91.2L1974.4 89.1L1974.5 87.0L1974.7 84.5L1975.0 81.4L1975.2 78.4L1975.5 76.0L1975.8 73.6L1976.0 71.1L1976.3 68.5L1976.5 65.8L1976.8 63.1L1977.0 60.5L1977.2 57.7L1977.4 54.8L1977.6 51.7L1977.9 48.5L1978.1 44.8L1978.3 41.8L1978.5 38.5L1978.7 36.0L1978.8 33.4L1978.9 31.4L1979.0 30.2L1979.0 30.1" stroke="#0000ff"/>
</g>
<g stroke="#000" stroke-width="3.2">
<line x1="1340.3" y1="562.8" x2="1340.3" y2="1194.5"/>
<line x1="1432.5" y1="206" x2="1432.5" y2="1276"/>
</g>
<g font-family="'Liberation Sans', Arial, sans-serif" fill="#000" stroke="#000" stroke-width="0.9" stroke-linejoin="round">
<text x="166.5" y="1534.5" font-size="79.0" text-anchor="middle" stroke-width="0.3">4000</text>
<text x="504.3" y="1534.5" font-size="79.0" text-anchor="middle" stroke-width="0.3">3500</text>
<text x="839.5" y="1534.5" font-size="79.0" text-anchor="middle" stroke-width="0.3">3000</text>
<text x="1189.0" y="1534.5" font-size="79.0" text-anchor="middle" stroke-width="0.3">1750</text>
<text x="1603.0" y="1534.5" font-size="79.0" text-anchor="middle" stroke-width="0.3">1500</text>
<text x="2017.5" y="1534.5" font-size="79.0" text-anchor="middle" stroke-width="0.3">1250</text>
<text x="120.5" y="1448.5" font-size="79.0" text-anchor="end" stroke-width="0.3">0</text>
<text x="120.5" y="644.5" font-size="79.0" text-anchor="end" stroke-width="0.3">1</text>
<text x="706" y="1683.5" font-size="80.4" stroke-width="0.3">Wavenumbers (cm<tspan font-size="45" dy="-53" dx="0">-1</tspan><tspan dy="53" dx="6">)</tspan></text>
<text transform="translate(95.2 766) rotate(-90)" font-size="80" text-anchor="middle" stroke-width="0.3">Absorbance (a.u.)</text>
<text x="194.0" y="764.0" font-size="67.0">e)</text>
<text x="190.0" y="884.0" font-size="67.0">d)</text>
<text x="194.0" y="983.0" font-size="67.0">c)</text>
<text x="196.5" y="1123.5" font-size="67.0">b)</text>
<text x="190.0" y="1272.5" font-size="67.0">a)</text>
<text transform="translate(350.6 638.5) rotate(-90)" font-size="67.3">3745 Si-OH</text>
<text transform="translate(897.8 410.3) rotate(-90)" font-size="67.0">2930</text>
<text transform="translate(584.3 1332.6) rotate(-90)" font-size="67.0">3362</text>
<text transform="translate(670.1 1332.6) rotate(-90)" font-size="67.0">3296</text>
<text transform="translate(1346.8 525.0) rotate(-90)" font-size="67.0">1655</text>
<text transform="translate(1491.0 227.1) rotate(-90)" font-size="67.0">1605</text>
<text transform="translate(1704.4 405.3) rotate(-90)" font-size="67.0">1450</text>
<text transform="translate(1865.8 368.3) rotate(-90)" font-size="67.0">1360</text>
<text transform="translate(1615.6 975.0) rotate(-90)" font-size="67.0">1510</text>
<text x="515.2" y="280.3" font-size="67.0">3360</text>
<text x="517.6" y="202.3" font-size="57.5" font-family="'Noto Serif CJK SC', 'Liberation Serif', serif">ν</text><text x="550.0" y="202.3" font-size="67.0">OH</text>
<text x="828.9" y="204.9" font-size="57.5" font-family="'Noto Serif CJK SC', 'Liberation Serif', serif">ν</text><text x="861.5" y="204.9" font-size="67.0">CH</text>
<text x="571.0" y="1032.2" font-size="57.5" font-family="'Noto Serif CJK SC', 'Liberation Serif', serif">ν</text><text x="603.5" y="1032.2" font-size="67.0">NH</text>
<text x="1260.5" y="165.4" font-size="67.0" font-family="'Liberation Serif', 'DejaVu Serif', serif">δ</text><text x="1290.0" y="165.4" font-size="67.0">H<tspan font-size="40" dy="26.5">2</tspan><tspan dy="-26.5">O</tspan></text>
<text x="1617.5" y="221.8" font-size="67.0" font-family="'Liberation Serif', 'DejaVu Serif', serif">δ</text><text x="1646.5" y="221.8" font-size="67.0">CH</text>
<text x="1776.7" y="181.0" font-size="67.0" font-family="'Liberation Serif', 'DejaVu Serif', serif">δ</text><text x="1806.2" y="181.0" font-size="67.0">OH</text>
<text x="1507.0" y="558.5" font-size="67.0" font-family="'Liberation Serif', 'DejaVu Serif', serif">δ</text><text x="1537.0" y="558.5" font-size="67.0">NH</text>
<text x="1373.0" y="1355.4" font-size="67.0" font-family="'Liberation Serif', 'DejaVu Serif', serif">δ</text><text x="1402.5" y="1355.4" font-size="67.0">NH<tspan font-size="40" dy="26.5">2</tspan></text>
<text x="1553" y="628.7" font-size="54">2<tspan font-size="31.5" dy="-30.5">nd</tspan></text>
</g>
</svg>
</body></html>
